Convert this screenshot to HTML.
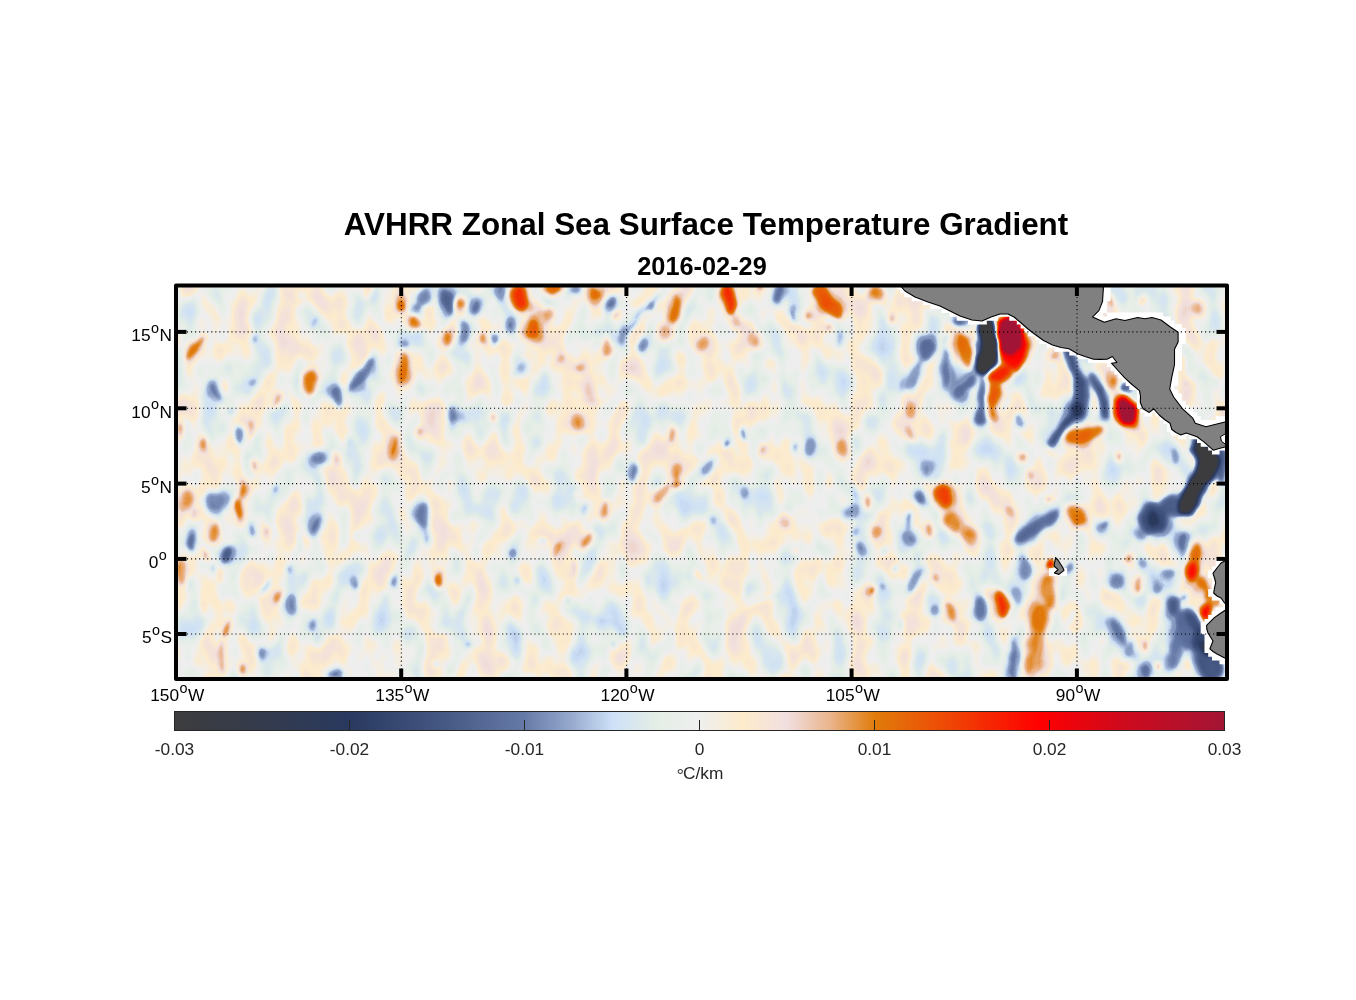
<!DOCTYPE html>
<html><head><meta charset="utf-8"><title>AVHRR Zonal Sea Surface Temperature Gradient</title>
<style>
html,body{margin:0;padding:0;background:#fff;}
body{width:1356px;height:1000px;overflow:hidden;position:relative;font-family:"Liberation Sans",Arial,Helvetica,sans-serif;}
svg{position:absolute;left:0;top:0;display:block}
text{font-family:"Liberation Sans",Arial,Helvetica,sans-serif;}
.ttl{font-weight:bold;font-size:31.4px;fill:#000}
.sub{font-weight:bold;font-size:25.3px;fill:#000}
.tk{font-size:17.3px;fill:#000}
.cb{font-size:17.3px;fill:#262626}
.sup{font-size:14.4px}
</style></head><body>
<svg width="1356" height="1000" viewBox="0 0 1356 1000">
<defs>

<filter id="fld" x="0" y="0" width="100%" height="100%" filterUnits="objectBoundingBox" color-interpolation-filters="sRGB">
<feTurbulence type="fractalNoise" baseFrequency="0.05 0.04" numOctaves="2" seed="3" result="dn"/>
<feDisplacementMap in="SourceGraphic" in2="dn" scale="11" xChannelSelector="R" yChannelSelector="G" result="b0"/>
<feGaussianBlur in="b0" stdDeviation="2.2" result="b"/>
<feTurbulence type="fractalNoise" baseFrequency="0.040 0.025" numOctaves="2" seed="7" result="t"/>
<feColorMatrix in="t" type="matrix" values="1 0 0 0 0  1 0 0 0 0  1 0 0 0 0  0 0 0 0 1" result="tg0"/>
<feComponentTransfer in="tg0" result="tg"><feFuncR type="table" tableValues="0.211 0.213 0.216 0.219 0.223 0.228 0.234 0.241 0.250 0.260 0.272 0.285 0.301 0.319 0.339 0.361 0.386 0.413 0.441 0.470 0.500 0.530 0.559 0.587 0.614 0.639 0.661 0.681 0.699 0.715 0.728 0.740 0.750 0.759 0.766 0.772 0.777 0.781 0.784 0.787 0.789"/><feFuncG type="table" tableValues="0.211 0.213 0.216 0.219 0.223 0.228 0.234 0.241 0.250 0.260 0.272 0.285 0.301 0.319 0.339 0.361 0.386 0.413 0.441 0.470 0.500 0.530 0.559 0.587 0.614 0.639 0.661 0.681 0.699 0.715 0.728 0.740 0.750 0.759 0.766 0.772 0.777 0.781 0.784 0.787 0.789"/><feFuncB type="table" tableValues="0.211 0.213 0.216 0.219 0.223 0.228 0.234 0.241 0.250 0.260 0.272 0.285 0.301 0.319 0.339 0.361 0.386 0.413 0.441 0.470 0.500 0.530 0.559 0.587 0.614 0.639 0.661 0.681 0.699 0.715 0.728 0.740 0.750 0.759 0.766 0.772 0.777 0.781 0.784 0.787 0.789"/></feComponentTransfer>
<feComponentTransfer in="b" result="M"><feFuncR type="table" tableValues="0.25 0.25 0.25 0.25 0.25 0.25 0.25 0.25 0.25 0.25 0.25 0.25 0.25 0.25 0.25 0.25 0.25 0.25 0.25 0.25 0.25 0.25 0.25 0.25 0.25 0.25 0.25 0.25 0.25 0.25 0.25 0.25 0.25 0.34 0.53 0.72 0.91 1.00 1.00 1.00 1.00 1.00 1.00 1.00 0.91 0.72 0.53 0.34 0.25 0.25 0.25 0.25 0.25 0.25 0.25 0.25 0.25 0.25 0.25 0.25 0.25 0.25 0.25 0.25 0.25 0.25 0.25 0.25 0.25 0.25 0.25 0.25 0.25 0.25 0.25 0.25 0.25 0.25 0.25 0.25 0.25"/><feFuncG type="table" tableValues="0.25 0.25 0.25 0.25 0.25 0.25 0.25 0.25 0.25 0.25 0.25 0.25 0.25 0.25 0.25 0.25 0.25 0.25 0.25 0.25 0.25 0.25 0.25 0.25 0.25 0.25 0.25 0.25 0.25 0.25 0.25 0.25 0.25 0.34 0.53 0.72 0.91 1.00 1.00 1.00 1.00 1.00 1.00 1.00 0.91 0.72 0.53 0.34 0.25 0.25 0.25 0.25 0.25 0.25 0.25 0.25 0.25 0.25 0.25 0.25 0.25 0.25 0.25 0.25 0.25 0.25 0.25 0.25 0.25 0.25 0.25 0.25 0.25 0.25 0.25 0.25 0.25 0.25 0.25 0.25 0.25"/><feFuncB type="table" tableValues="0.25 0.25 0.25 0.25 0.25 0.25 0.25 0.25 0.25 0.25 0.25 0.25 0.25 0.25 0.25 0.25 0.25 0.25 0.25 0.25 0.25 0.25 0.25 0.25 0.25 0.25 0.25 0.25 0.25 0.25 0.25 0.25 0.25 0.34 0.53 0.72 0.91 1.00 1.00 1.00 1.00 1.00 1.00 1.00 0.91 0.72 0.53 0.34 0.25 0.25 0.25 0.25 0.25 0.25 0.25 0.25 0.25 0.25 0.25 0.25 0.25 0.25 0.25 0.25 0.25 0.25 0.25 0.25 0.25 0.25 0.25 0.25 0.25 0.25 0.25 0.25 0.25 0.25 0.25 0.25 0.25"/></feComponentTransfer>
<feComposite in="tg" in2="M" operator="arithmetic" k1="1" k2="0" k3="0" k4="0" result="t1"/>
<feComposite in="b" in2="M" operator="arithmetic" k1="0" k2="1" k3="-0.1250" k4="0.1250" result="t3"/>
<feComposite in="t3" in2="t1" operator="arithmetic" k1="0" k2="1" k3="0.2500" k4="-0.1250" result="s"/>
<feComponentTransfer in="s">
<feFuncR type="table" tableValues="0.239 0.239 0.239 0.239 0.239 0.239 0.239 0.239 0.239 0.239 0.239 0.239 0.239 0.239 0.239 0.239 0.239 0.239 0.239 0.239 0.239 0.236 0.232 0.229 0.225 0.222 0.218 0.215 0.211 0.207 0.204 0.200 0.195 0.191 0.187 0.182 0.178 0.174 0.169 0.165 0.161 0.171 0.181 0.191 0.202 0.212 0.222 0.232 0.242 0.253 0.263 0.276 0.290 0.304 0.318 0.331 0.345 0.359 0.373 0.386 0.400 0.435 0.471 0.506 0.541 0.576 0.622 0.667 0.713 0.758 0.804 0.822 0.840 0.858 0.876 0.894 0.903 0.911 0.920 0.929 0.937 0.948 0.959 0.970 0.981 0.992 0.983 0.973 0.964 0.955 0.945 0.940 0.934 0.929 0.923 0.918 0.910 0.902 0.894 0.886 0.878 0.885 0.892 0.899 0.906 0.913 0.920 0.926 0.933 0.940 0.946 0.952 0.958 0.964 0.970 0.977 0.983 0.989 0.995 0.996 0.976 0.956 0.936 0.916 0.896 0.876 0.856 0.836 0.816 0.801 0.786 0.772 0.757 0.742 0.727 0.713 0.698 0.683 0.669 0.654 0.639 0.639 0.639 0.639 0.639 0.639 0.639 0.639 0.639 0.639 0.639 0.639 0.639 0.639 0.639 0.639 0.639 0.639 0.639 0.639 0.639"/>
<feFuncG type="table" tableValues="0.239 0.239 0.239 0.239 0.239 0.239 0.239 0.239 0.239 0.239 0.239 0.239 0.239 0.239 0.239 0.239 0.239 0.239 0.239 0.239 0.239 0.238 0.238 0.237 0.236 0.235 0.235 0.234 0.233 0.232 0.231 0.231 0.230 0.229 0.228 0.227 0.227 0.226 0.225 0.224 0.224 0.235 0.245 0.256 0.267 0.278 0.289 0.300 0.311 0.322 0.333 0.348 0.362 0.377 0.391 0.406 0.420 0.435 0.449 0.464 0.478 0.513 0.547 0.582 0.616 0.651 0.696 0.742 0.787 0.833 0.878 0.889 0.900 0.911 0.922 0.933 0.934 0.935 0.936 0.936 0.937 0.934 0.931 0.928 0.925 0.922 0.912 0.903 0.893 0.884 0.875 0.841 0.807 0.773 0.740 0.706 0.662 0.618 0.574 0.530 0.486 0.462 0.437 0.413 0.388 0.364 0.339 0.315 0.290 0.263 0.236 0.210 0.183 0.156 0.129 0.102 0.075 0.048 0.021 0.001 0.005 0.009 0.014 0.018 0.022 0.026 0.031 0.035 0.039 0.043 0.046 0.050 0.054 0.057 0.061 0.064 0.068 0.072 0.075 0.079 0.082 0.082 0.082 0.082 0.082 0.082 0.082 0.082 0.082 0.082 0.082 0.082 0.082 0.082 0.082 0.082 0.082 0.082 0.082 0.082 0.082"/>
<feFuncB type="table" tableValues="0.247 0.247 0.247 0.247 0.247 0.247 0.247 0.247 0.247 0.247 0.247 0.247 0.247 0.247 0.247 0.247 0.247 0.247 0.247 0.247 0.247 0.252 0.257 0.262 0.267 0.273 0.278 0.283 0.288 0.293 0.298 0.305 0.313 0.320 0.328 0.335 0.343 0.350 0.358 0.365 0.373 0.386 0.399 0.413 0.426 0.439 0.453 0.466 0.479 0.493 0.506 0.521 0.536 0.551 0.565 0.580 0.595 0.610 0.625 0.640 0.655 0.683 0.711 0.740 0.768 0.796 0.831 0.865 0.900 0.934 0.969 0.955 0.942 0.929 0.915 0.902 0.909 0.916 0.923 0.930 0.937 0.909 0.881 0.853 0.824 0.796 0.813 0.829 0.845 0.862 0.878 0.811 0.744 0.676 0.609 0.541 0.442 0.342 0.242 0.143 0.043 0.040 0.037 0.034 0.031 0.028 0.025 0.023 0.020 0.018 0.016 0.014 0.012 0.011 0.009 0.007 0.005 0.003 0.001 0.002 0.014 0.026 0.038 0.050 0.062 0.074 0.086 0.098 0.110 0.118 0.126 0.134 0.142 0.151 0.159 0.167 0.175 0.183 0.192 0.200 0.208 0.208 0.208 0.208 0.208 0.208 0.208 0.208 0.208 0.208 0.208 0.208 0.208 0.208 0.208 0.208 0.208 0.208 0.208 0.208 0.208"/>
</feComponentTransfer>
</filter>

<linearGradient id="cbg" x1="0" y1="0" x2="1" y2="0">
<stop offset="0.0000" stop-color="#3d3d3f"/>
<stop offset="0.0833" stop-color="#343b4c"/>
<stop offset="0.1667" stop-color="#29395f"/>
<stop offset="0.2500" stop-color="#435581"/>
<stop offset="0.3333" stop-color="#667aa7"/>
<stop offset="0.3750" stop-color="#93a6cb"/>
<stop offset="0.4167" stop-color="#cde0f7"/>
<stop offset="0.4583" stop-color="#e4eee6"/>
<stop offset="0.5000" stop-color="#efefef"/>
<stop offset="0.5417" stop-color="#fdebcb"/>
<stop offset="0.5833" stop-color="#f1dfe0"/>
<stop offset="0.6250" stop-color="#eab48a"/>
<stop offset="0.6667" stop-color="#e07c0b"/>
<stop offset="0.7333" stop-color="#ee4a05"/>
<stop offset="0.8233" stop-color="#ff0000"/>
<stop offset="0.9000" stop-color="#d00a1c"/>
<stop offset="1.0000" stop-color="#a31535"/>
</linearGradient>
<clipPath id="clip"><rect x="176" y="285.5" width="1051" height="393.5"/></clipPath>
</defs>

<g clip-path="url(#clip)"><g filter="url(#fld)">
<rect x="156" y="265.5" width="1091" height="433.5" fill="#808080"/>
<ellipse cx="195" cy="348" rx="8.8" ry="18.3" fill="#898989" transform="rotate(35 195 348)"/>
<ellipse cx="216" cy="392" rx="9.5" ry="14.5" fill="#777777" transform="rotate(-25 216 392)"/>
<ellipse cx="311" cy="382" rx="13.5" ry="14.5" fill="#8a8a8a" transform="rotate(0 311 382)"/>
<ellipse cx="363" cy="374" rx="10.5" ry="26.5" fill="#767676" transform="rotate(35 363 374)"/>
<ellipse cx="337" cy="396" rx="11.5" ry="14.5" fill="#767676" transform="rotate(0 337 396)"/>
<ellipse cx="402" cy="305" rx="10.5" ry="11.5" fill="#8a8a8a" transform="rotate(0 402 305)"/>
<ellipse cx="414" cy="323" rx="12.5" ry="10.5" fill="#8a8a8a" transform="rotate(35 414 323)"/>
<ellipse cx="423" cy="298" rx="12.5" ry="14.5" fill="#777777" transform="rotate(0 423 298)"/>
<ellipse cx="417" cy="308" rx="9.5" ry="9.5" fill="#777777" transform="rotate(0 417 308)"/>
<ellipse cx="403" cy="368" rx="10.5" ry="21.5" fill="#898989" transform="rotate(0 403 368)"/>
<ellipse cx="277" cy="400" rx="7.8" ry="11.8" fill="#878787" transform="rotate(25 277 400)"/>
<ellipse cx="181" cy="429" rx="7.8" ry="11.8" fill="#888888" transform="rotate(0 181 429)"/>
<ellipse cx="203" cy="444" rx="5.8" ry="10.8" fill="#888888" transform="rotate(0 203 444)"/>
<ellipse cx="239" cy="435" rx="7.8" ry="12.8" fill="#777777" transform="rotate(0 239 435)"/>
<ellipse cx="318" cy="458" rx="12.5" ry="11.5" fill="#777777" transform="rotate(0 318 458)"/>
<ellipse cx="393.6" cy="448" rx="6.8" ry="13.3" fill="#898989" transform="rotate(0 393.6 448)"/>
<ellipse cx="420" cy="434" rx="9.5" ry="9.5" fill="#878787" transform="rotate(0 420 434)"/>
<ellipse cx="336" cy="458" rx="5.8" ry="8.8" fill="#868686" transform="rotate(0 336 458)"/>
<ellipse cx="256" cy="464" rx="4.9" ry="9.4" fill="#878787" transform="rotate(0 256 464)"/>
<ellipse cx="252" cy="429" rx="3.9" ry="9.9" fill="#868686" transform="rotate(0 252 429)"/>
<ellipse cx="449" cy="302" rx="12.5" ry="18.5" fill="#757575" transform="rotate(-15 449 302)"/>
<ellipse cx="464" cy="332" rx="9.5" ry="16.5" fill="#777777" transform="rotate(0 464 332)"/>
<ellipse cx="461" cy="303" rx="7.8" ry="9.8" fill="#888888" transform="rotate(0 461 303)"/>
<ellipse cx="474" cy="306" rx="9.5" ry="12.5" fill="#767676" transform="rotate(25 474 306)"/>
<ellipse cx="500" cy="292" rx="7.8" ry="9.8" fill="#777777" transform="rotate(0 500 292)"/>
<ellipse cx="520" cy="299" rx="13.5" ry="17.5" fill="#8d8d8d" transform="rotate(0 520 299)"/>
<ellipse cx="552" cy="288" rx="13.5" ry="9.5" fill="#8b8b8b" transform="rotate(0 552 288)"/>
<ellipse cx="548" cy="314" rx="11.5" ry="11.5" fill="#878787" transform="rotate(0 548 314)"/>
<ellipse cx="532" cy="329" rx="12.5" ry="13.5" fill="#8a8a8a" transform="rotate(0 532 329)"/>
<ellipse cx="574" cy="291" rx="10.5" ry="9.5" fill="#777777" transform="rotate(0 574 291)"/>
<ellipse cx="595" cy="293" rx="9.5" ry="12.5" fill="#898989" transform="rotate(-30 595 293)"/>
<ellipse cx="611" cy="301" rx="9.5" ry="10.5" fill="#767676" transform="rotate(0 611 301)"/>
<ellipse cx="448" cy="339" rx="9.5" ry="14.5" fill="#898989" transform="rotate(15 448 339)"/>
<ellipse cx="482" cy="338" rx="5.8" ry="7.8" fill="#888888" transform="rotate(0 482 338)"/>
<ellipse cx="495" cy="338" rx="7.8" ry="9.8" fill="#777777" transform="rotate(0 495 338)"/>
<ellipse cx="511" cy="327" rx="7.8" ry="8.8" fill="#777777" transform="rotate(0 511 327)"/>
<polyline points="657,295 650,304 640,316 630,326 623,335" fill="none" stroke="#787878" stroke-width="14.0" stroke-linecap="round" stroke-linejoin="round"/>
<ellipse cx="650" cy="304" rx="7.8" ry="8.8" fill="#777777" transform="rotate(0 650 304)"/>
<ellipse cx="623" cy="334" rx="6.8" ry="12.3" fill="#777777" transform="rotate(0 623 334)"/>
<ellipse cx="643" cy="347" rx="9.5" ry="12.5" fill="#777777" transform="rotate(0 643 347)"/>
<ellipse cx="676" cy="310" rx="9.5" ry="19.5" fill="#898989" transform="rotate(10 676 310)"/>
<ellipse cx="664" cy="333" rx="11.5" ry="12.5" fill="#868686" transform="rotate(0 664 333)"/>
<ellipse cx="606" cy="347" rx="8.8" ry="13.3" fill="#888888" transform="rotate(0 606 347)"/>
<ellipse cx="617" cy="315" rx="5.8" ry="7.8" fill="#878787" transform="rotate(30 617 315)"/>
<ellipse cx="580" cy="368" rx="8.8" ry="7.8" fill="#878787" transform="rotate(0 580 368)"/>
<ellipse cx="562" cy="357" rx="7.8" ry="7.8" fill="#868686" transform="rotate(0 562 357)"/>
<ellipse cx="453" cy="414" rx="10.5" ry="13.5" fill="#777777" transform="rotate(0 453 414)"/>
<ellipse cx="494" cy="416" rx="5.8" ry="7.8" fill="#878787" transform="rotate(0 494 416)"/>
<ellipse cx="578" cy="424" rx="9.5" ry="10.5" fill="#878787" transform="rotate(0 578 424)"/>
<ellipse cx="672" cy="434" rx="7.8" ry="11.8" fill="#888888" transform="rotate(0 672 434)"/>
<ellipse cx="635" cy="472" rx="5.8" ry="10.8" fill="#777777" transform="rotate(0 635 472)"/>
<ellipse cx="675" cy="474" rx="7.8" ry="9.8" fill="#888888" transform="rotate(0 675 474)"/>
<ellipse cx="728" cy="302" rx="10.5" ry="20.5" fill="#8e8e8e" transform="rotate(-10 728 302)"/>
<ellipse cx="737" cy="322" rx="10.5" ry="10.5" fill="#868686" transform="rotate(0 737 322)"/>
<ellipse cx="759" cy="288" rx="6.8" ry="5.8" fill="#888888" transform="rotate(0 759 288)"/>
<ellipse cx="778" cy="294" rx="9.5" ry="12.5" fill="#767676" transform="rotate(0 778 294)"/>
<ellipse cx="828" cy="302" rx="12.5" ry="24.5" fill="#8b8b8b" transform="rotate(-45 828 302)"/>
<ellipse cx="810" cy="317" rx="5.8" ry="7.8" fill="#888888" transform="rotate(0 810 317)"/>
<ellipse cx="828" cy="327" rx="8.8" ry="7.8" fill="#878787" transform="rotate(-30 828 327)"/>
<ellipse cx="877" cy="293" rx="11.5" ry="12.5" fill="#888888" transform="rotate(0 877 293)"/>
<ellipse cx="890" cy="317" rx="5.8" ry="8.8" fill="#878787" transform="rotate(0 890 317)"/>
<ellipse cx="757" cy="341" rx="9.5" ry="11.5" fill="#878787" transform="rotate(20 757 341)"/>
<ellipse cx="701" cy="345" rx="7.8" ry="9.8" fill="#878787" transform="rotate(0 701 345)"/>
<ellipse cx="794" cy="314" rx="5.8" ry="10.8" fill="#787878" transform="rotate(-15 794 314)"/>
<ellipse cx="927" cy="349" rx="12.5" ry="16.5" fill="#767676" transform="rotate(15 927 349)"/>
<ellipse cx="915" cy="374" rx="9.5" ry="18.5" fill="#777777" transform="rotate(10 915 374)"/>
<ellipse cx="956" cy="320" rx="9.5" ry="9.5" fill="#767676" transform="rotate(0 956 320)"/>
<ellipse cx="958" cy="392" rx="9.5" ry="12.5" fill="#767676" transform="rotate(0 958 392)"/>
<ellipse cx="946" cy="364" rx="5.8" ry="20.9" fill="#787878" transform="rotate(0 946 364)"/>
<ellipse cx="910" cy="410" rx="7.8" ry="11.8" fill="#878787" transform="rotate(0 910 410)"/>
<ellipse cx="909" cy="436" rx="6.8" ry="10.3" fill="#878787" transform="rotate(0 909 436)"/>
<ellipse cx="842" cy="449" rx="6.8" ry="10.3" fill="#868686" transform="rotate(0 842 449)"/>
<ellipse cx="811" cy="446" rx="6.8" ry="11.3" fill="#797979" transform="rotate(0 811 446)"/>
<ellipse cx="743" cy="434" rx="4.9" ry="10.4" fill="#777777" transform="rotate(0 743 434)"/>
<ellipse cx="727" cy="444" rx="3.9" ry="6.9" fill="#777777" transform="rotate(0 727 444)"/>
<ellipse cx="707" cy="468" rx="9.5" ry="14.5" fill="#777777" transform="rotate(25 707 468)"/>
<ellipse cx="762" cy="451" rx="5.8" ry="8.8" fill="#868686" transform="rotate(0 762 451)"/>
<ellipse cx="795" cy="449" rx="3.9" ry="6.9" fill="#797979" transform="rotate(0 795 449)"/>
<ellipse cx="928" cy="470" rx="7.8" ry="10.8" fill="#787878" transform="rotate(0 928 470)"/>
<ellipse cx="959" cy="340" rx="5.8" ry="8.8" fill="#898989" transform="rotate(0 959 340)"/>
<ellipse cx="960" cy="321.5" rx="12.8" ry="7.8" fill="#757575" transform="rotate(10 960 321.5)"/>
<ellipse cx="927.7" cy="348.5" rx="10.5" ry="13.5" fill="#767676" transform="rotate(0 927.7 348.5)"/>
<ellipse cx="913.5" cy="374" rx="9.5" ry="22.5" fill="#787878" transform="rotate(25 913.5 374)"/>
<ellipse cx="946.5" cy="374" rx="9.5" ry="18.5" fill="#777777" transform="rotate(0 946.5 374)"/>
<ellipse cx="958.5" cy="392" rx="11.5" ry="11.5" fill="#777777" transform="rotate(0 958.5 392)"/>
<ellipse cx="966" cy="383" rx="9.5" ry="17.5" fill="#767676" transform="rotate(45 966 383)"/>
<ellipse cx="982" cy="398" rx="8.8" ry="26.3" fill="#757575" transform="rotate(0 982 398)"/>
<ellipse cx="980" cy="417" rx="10.5" ry="12.5" fill="#747474" transform="rotate(0 980 417)"/>
<ellipse cx="986" cy="346" rx="15.5" ry="33.5" fill="#747474" transform="rotate(5 986 346)"/>
<ellipse cx="966" cy="351" rx="12.5" ry="20.0" fill="#898989" transform="rotate(-20 966 351)"/>
<ellipse cx="1012" cy="345" rx="18.0" ry="31.5" fill="#919191" transform="rotate(-5 1012 345)"/>
<ellipse cx="1000" cy="375" rx="14.5" ry="15.5" fill="#909090" transform="rotate(40 1000 375)"/>
<ellipse cx="995" cy="393" rx="10.5" ry="17.5" fill="#8b8b8b" transform="rotate(10 995 393)"/>
<ellipse cx="993" cy="410" rx="6.8" ry="13.3" fill="#898989" transform="rotate(-10 993 410)"/>
<ellipse cx="1010" cy="336" rx="16.5" ry="24.5" fill="#9e9e9e" transform="rotate(-5 1010 336)"/>
<polyline points="1067.5,352.5 1073,362 1076.5,372 1079,382 1080,393 1079.5,403 1078,411 1072,420 1064.5,427.5 1058,434 1051,441" fill="none" stroke="#717171" stroke-width="16.5" stroke-linecap="round" stroke-linejoin="round"/>
<polyline points="1084,380 1085,392 1082.5,404" fill="none" stroke="#727272" stroke-width="14.0" stroke-linecap="round" stroke-linejoin="round"/>
<ellipse cx="1077" cy="410" rx="9.5" ry="12.5" fill="#6e6e6e" transform="rotate(15 1077 410)"/>
<polyline points="1093,376.5 1097,383 1100.5,390 1103,399 1105,408 1106.5,415" fill="none" stroke="#717171" stroke-width="15.0" stroke-linecap="round" stroke-linejoin="round"/>
<ellipse cx="1125" cy="388.5" rx="8.8" ry="7.8" fill="#747474" transform="rotate(0 1125 388.5)"/>
<ellipse cx="1112" cy="381" rx="9.5" ry="10.5" fill="#888888" transform="rotate(0 1112 381)"/>
<ellipse cx="1054" cy="354" rx="4.9" ry="6.4" fill="#878787" transform="rotate(0 1054 354)"/>
<ellipse cx="1126" cy="412" rx="14.5" ry="21.0" fill="#929292" transform="rotate(-24 1126 412)"/>
<ellipse cx="1126" cy="412" rx="12.0" ry="18.0" fill="#a0a0a0" transform="rotate(-24 1126 412)"/>
<ellipse cx="1086" cy="435" rx="25.5" ry="12.5" fill="#8a8a8a" transform="rotate(-17 1086 435)"/>
<ellipse cx="1024" cy="458" rx="5.8" ry="7.8" fill="#878787" transform="rotate(0 1024 458)"/>
<ellipse cx="1029" cy="474" rx="5.8" ry="6.8" fill="#868686" transform="rotate(0 1029 474)"/>
<ellipse cx="1117" cy="457.5" rx="5.8" ry="7.8" fill="#888888" transform="rotate(20 1117 457.5)"/>
<ellipse cx="1020" cy="422" rx="9.5" ry="10.5" fill="#777777" transform="rotate(0 1020 422)"/>
<ellipse cx="1198" cy="307" rx="5.8" ry="7.8" fill="#868686" transform="rotate(0 1198 307)"/>
<ellipse cx="1142" cy="301" rx="3.9" ry="6.9" fill="#868686" transform="rotate(0 1142 301)"/>
<ellipse cx="1110" cy="300" rx="3.9" ry="7.9" fill="#898989" transform="rotate(0 1110 300)"/>
<ellipse cx="188" cy="498" rx="11.5" ry="14.5" fill="#878787" transform="rotate(0 188 498)"/>
<ellipse cx="194" cy="516" rx="7.8" ry="9.8" fill="#868686" transform="rotate(0 194 516)"/>
<ellipse cx="215" cy="502" rx="14.5" ry="14.5" fill="#777777" transform="rotate(0 215 502)"/>
<ellipse cx="243" cy="490" rx="7.8" ry="12.8" fill="#898989" transform="rotate(0 243 490)"/>
<ellipse cx="238" cy="510" rx="7.8" ry="15.8" fill="#8a8a8a" transform="rotate(0 238 510)"/>
<ellipse cx="215" cy="532" rx="10.5" ry="13.5" fill="#888888" transform="rotate(0 215 532)"/>
<ellipse cx="191" cy="542" rx="7.8" ry="12.8" fill="#757575" transform="rotate(0 191 542)"/>
<ellipse cx="227" cy="557" rx="10.5" ry="13.5" fill="#737373" transform="rotate(20 227 557)"/>
<ellipse cx="205" cy="554" rx="5.8" ry="7.8" fill="#888888" transform="rotate(0 205 554)"/>
<ellipse cx="179.6" cy="572" rx="4.9" ry="12.4" fill="#888888" transform="rotate(0 179.6 572)"/>
<ellipse cx="253" cy="529" rx="7.8" ry="10.8" fill="#777777" transform="rotate(0 253 529)"/>
<ellipse cx="265.6" cy="534" rx="4.9" ry="8.4" fill="#868686" transform="rotate(0 265.6 534)"/>
<ellipse cx="315" cy="526" rx="9.5" ry="16.5" fill="#777777" transform="rotate(20 315 526)"/>
<ellipse cx="423" cy="515" rx="11.5" ry="17.5" fill="#777777" transform="rotate(0 423 515)"/>
<ellipse cx="425" cy="536" rx="3.9" ry="9.9" fill="#797979" transform="rotate(0 425 536)"/>
<ellipse cx="438" cy="581" rx="8.8" ry="12.3" fill="#8b8b8b" transform="rotate(0 438 581)"/>
<ellipse cx="355" cy="582" rx="4.9" ry="7.4" fill="#787878" transform="rotate(0 355 582)"/>
<ellipse cx="394" cy="580" rx="5.8" ry="8.8" fill="#787878" transform="rotate(0 394 580)"/>
<ellipse cx="278" cy="598" rx="5.8" ry="9.8" fill="#888888" transform="rotate(15 278 598)"/>
<ellipse cx="292" cy="606" rx="5.8" ry="11.8" fill="#777777" transform="rotate(0 292 606)"/>
<ellipse cx="312" cy="624" rx="5.8" ry="7.8" fill="#777777" transform="rotate(0 312 624)"/>
<ellipse cx="266" cy="589" rx="5.8" ry="10.8" fill="#797979" transform="rotate(40 266 589)"/>
<ellipse cx="289" cy="568" rx="4.9" ry="6.4" fill="#797979" transform="rotate(0 289 568)"/>
<ellipse cx="227" cy="628" rx="4.9" ry="11.4" fill="#898989" transform="rotate(10 227 628)"/>
<ellipse cx="222" cy="656" rx="4.9" ry="20.4" fill="#888888" transform="rotate(-5 222 656)"/>
<ellipse cx="244" cy="670" rx="5.8" ry="8.8" fill="#898989" transform="rotate(0 244 670)"/>
<ellipse cx="262" cy="652" rx="7.8" ry="8.8" fill="#777777" transform="rotate(0 262 652)"/>
<ellipse cx="336" cy="673" rx="7.8" ry="5.8" fill="#777777" transform="rotate(0 336 673)"/>
<ellipse cx="220" cy="576" rx="3.9" ry="6.9" fill="#868686" transform="rotate(0 220 576)"/>
<ellipse cx="212" cy="568" rx="2.9" ry="5.4" fill="#787878" transform="rotate(0 212 568)"/>
<ellipse cx="276" cy="488" rx="2.9" ry="6.4" fill="#797979" transform="rotate(0 276 488)"/>
<ellipse cx="605" cy="510" rx="7.8" ry="11.8" fill="#888888" transform="rotate(0 605 510)"/>
<ellipse cx="586" cy="540" rx="9.5" ry="13.5" fill="#888888" transform="rotate(25 586 540)"/>
<ellipse cx="662" cy="492" rx="10.5" ry="16.5" fill="#888888" transform="rotate(25 662 492)"/>
<ellipse cx="676" cy="483" rx="8.8" ry="7.8" fill="#898989" transform="rotate(0 676 483)"/>
<ellipse cx="556" cy="550" rx="3.9" ry="7.9" fill="#868686" transform="rotate(20 556 550)"/>
<ellipse cx="849" cy="513" rx="10.5" ry="11.5" fill="#787878" transform="rotate(30 849 513)"/>
<ellipse cx="861" cy="547" rx="5.8" ry="7.8" fill="#777777" transform="rotate(0 861 547)"/>
<ellipse cx="856" cy="532" rx="5.8" ry="6.8" fill="#797979" transform="rotate(0 856 532)"/>
<ellipse cx="868" cy="503" rx="4.9" ry="10.4" fill="#888888" transform="rotate(0 868 503)"/>
<ellipse cx="920" cy="497" rx="11.5" ry="13.0" fill="#757575" transform="rotate(-25 920 497)"/>
<ellipse cx="945" cy="496" rx="12.5" ry="15.5" fill="#8c8c8c" transform="rotate(0 945 496)"/>
<ellipse cx="953" cy="522" rx="12.5" ry="18.5" fill="#888888" transform="rotate(-20 953 522)"/>
<ellipse cx="910" cy="520" rx="4.9" ry="9.4" fill="#777777" transform="rotate(0 910 520)"/>
<ellipse cx="912" cy="537" rx="10.5" ry="9.5" fill="#777777" transform="rotate(30 912 537)"/>
<ellipse cx="927" cy="531" rx="5.8" ry="9.8" fill="#888888" transform="rotate(0 927 531)"/>
<ellipse cx="874" cy="532" rx="5.8" ry="7.8" fill="#868686" transform="rotate(40 874 532)"/>
<ellipse cx="914" cy="581" rx="9.5" ry="18.5" fill="#777777" transform="rotate(30 914 581)"/>
<ellipse cx="871" cy="589" rx="5.8" ry="5.8" fill="#898989" transform="rotate(0 871 589)"/>
<ellipse cx="933" cy="579" rx="5.8" ry="5.8" fill="#888888" transform="rotate(0 933 579)"/>
<ellipse cx="951" cy="612" rx="9.5" ry="14.5" fill="#888888" transform="rotate(-15 951 612)"/>
<ellipse cx="935" cy="611" rx="5.8" ry="6.8" fill="#787878" transform="rotate(0 935 611)"/>
<ellipse cx="1154.6" cy="518.4" rx="20.5" ry="18.5" fill="#717171" transform="rotate(0 1154.6 518.4)"/>
<ellipse cx="1154.6" cy="519" rx="11.5" ry="11.5" fill="#6d6d6d" transform="rotate(0 1154.6 519)"/>
<ellipse cx="1140" cy="534" rx="11.5" ry="10.5" fill="#777777" transform="rotate(30 1140 534)"/>
<ellipse cx="1172" cy="506" rx="15.5" ry="14.5" fill="#727272" transform="rotate(0 1172 506)"/>
<ellipse cx="1105" cy="527.5" rx="9.5" ry="10.5" fill="#777777" transform="rotate(30 1105 527.5)"/>
<ellipse cx="1221" cy="465" rx="9.5" ry="22.5" fill="#727272" transform="rotate(0 1221 465)"/>
<ellipse cx="1183" cy="543" rx="9.5" ry="14.5" fill="#767676" transform="rotate(0 1183 543)"/>
<ellipse cx="1037" cy="527" rx="11.5" ry="32.5" fill="#757575" transform="rotate(55 1037 527)"/>
<ellipse cx="1077" cy="515" rx="17.0" ry="14.5" fill="#898989" transform="rotate(30 1077 515)"/>
<ellipse cx="971" cy="535" rx="12.5" ry="11.5" fill="#878787" transform="rotate(0 971 535)"/>
<ellipse cx="1048" cy="500" rx="3.9" ry="3.9" fill="#898989" transform="rotate(0 1048 500)"/>
<ellipse cx="1010" cy="513" rx="8.8" ry="7.8" fill="#868686" transform="rotate(0 1010 513)"/>
<ellipse cx="1052" cy="563" rx="5.8" ry="7.3" fill="#929292" transform="rotate(0 1052 563)"/>
<ellipse cx="1070" cy="567" rx="5.8" ry="8.8" fill="#777777" transform="rotate(0 1070 567)"/>
<ellipse cx="1024" cy="568" rx="10.5" ry="16.5" fill="#777777" transform="rotate(0 1024 568)"/>
<ellipse cx="1018" cy="598" rx="7.8" ry="11.8" fill="#797979" transform="rotate(0 1018 598)"/>
<ellipse cx="1002" cy="603" rx="10.5" ry="16.5" fill="#8e8e8e" transform="rotate(-15 1002 603)"/>
<ellipse cx="980" cy="608" rx="11.5" ry="17.5" fill="#767676" transform="rotate(0 980 608)"/>
<ellipse cx="1048" cy="592" rx="12.5" ry="22.5" fill="#888888" transform="rotate(0 1048 592)"/>
<ellipse cx="1039" cy="620" rx="13.5" ry="20.5" fill="#888888" transform="rotate(5 1039 620)"/>
<ellipse cx="1035" cy="642" rx="11.5" ry="18.5" fill="#878787" transform="rotate(5 1035 642)"/>
<ellipse cx="1031" cy="662" rx="11.5" ry="17.5" fill="#878787" transform="rotate(5 1031 662)"/>
<ellipse cx="1013" cy="662" rx="9.5" ry="26.5" fill="#777777" transform="rotate(0 1013 662)"/>
<ellipse cx="1117" cy="582.5" rx="12.5" ry="14.5" fill="#777777" transform="rotate(0 1117 582.5)"/>
<ellipse cx="1139" cy="583.8" rx="5.8" ry="11.8" fill="#888888" transform="rotate(0 1139 583.8)"/>
<ellipse cx="1127.3" cy="559" rx="4.9" ry="5.4" fill="#898989" transform="rotate(0 1127.3 559)"/>
<ellipse cx="1163" cy="580" rx="17.5" ry="14.5" fill="#797979" transform="rotate(0 1163 580)"/>
<ellipse cx="1169" cy="574.7" rx="11.5" ry="10.5" fill="#777777" transform="rotate(0 1169 574.7)"/>
<ellipse cx="1157" cy="587.7" rx="9.5" ry="11.5" fill="#777777" transform="rotate(0 1157 587.7)"/>
<ellipse cx="1143" cy="561.7" rx="7.8" ry="7.8" fill="#787878" transform="rotate(0 1143 561.7)"/>
<ellipse cx="1184.5" cy="596.8" rx="7.8" ry="8.8" fill="#777777" transform="rotate(0 1184.5 596.8)"/>
<ellipse cx="1118" cy="632" rx="10.5" ry="20.5" fill="#777777" transform="rotate(-25 1118 632)"/>
<ellipse cx="1130" cy="650" rx="9.5" ry="12.5" fill="#777777" transform="rotate(0 1130 650)"/>
<ellipse cx="1146" cy="645.5" rx="6.8" ry="8.3" fill="#888888" transform="rotate(0 1146 645.5)"/>
<ellipse cx="1158.5" cy="664.4" rx="3.9" ry="6.9" fill="#878787" transform="rotate(0 1158.5 664.4)"/>
<ellipse cx="1188.4" cy="667" rx="2.9" ry="9.4" fill="#868686" transform="rotate(0 1188.4 667)"/>
<ellipse cx="1145.5" cy="671" rx="9.5" ry="12.5" fill="#767676" transform="rotate(0 1145.5 671)"/>
<ellipse cx="1186" cy="630" rx="15.5" ry="24.5" fill="#757575" transform="rotate(-15 1186 630)"/>
<ellipse cx="1176" cy="655" rx="12.5" ry="18.5" fill="#777777" transform="rotate(10 1176 655)"/>
<ellipse cx="1172.8" cy="606" rx="12.5" ry="14.5" fill="#737373" transform="rotate(0 1172.8 606)"/>
<ellipse cx="1176" cy="640" rx="11.5" ry="19.5" fill="#767676" transform="rotate(15 1176 640)"/>
<ellipse cx="1170" cy="662" rx="9.5" ry="12.5" fill="#787878" transform="rotate(0 1170 662)"/>
<ellipse cx="1194" cy="622" rx="11.5" ry="16.5" fill="#717171" transform="rotate(-20 1194 622)"/>
<ellipse cx="1203" cy="646" rx="14.5" ry="24.5" fill="#707070" transform="rotate(-20 1203 646)"/>
<ellipse cx="1212" cy="668" rx="15.5" ry="16.5" fill="#707070" transform="rotate(0 1212 668)"/>
<ellipse cx="1208" cy="661" rx="16.5" ry="24.5" fill="#727272" transform="rotate(-15 1208 661)"/>
<ellipse cx="1205" cy="649" rx="8.8" ry="13.3" fill="#686868" transform="rotate(-25 1205 649)"/>
<ellipse cx="1196" cy="552" rx="10.5" ry="14.5" fill="#8a8a8a" transform="rotate(15 1196 552)"/>
<ellipse cx="1192.5" cy="569.5" rx="10.0" ry="14.5" fill="#909090" transform="rotate(0 1192.5 569.5)"/>
<ellipse cx="1201.5" cy="584" rx="9.5" ry="13.5" fill="#898989" transform="rotate(-30 1201.5 584)"/>
<ellipse cx="1208" cy="596" rx="9.5" ry="12.5" fill="#8a8a8a" transform="rotate(-20 1208 596)"/>
<ellipse cx="1208" cy="611" rx="9.5" ry="12.5" fill="#919191" transform="rotate(15 1208 611)"/>
<ellipse cx="1217" cy="602" rx="9.5" ry="9.5" fill="#898989" transform="rotate(0 1217 602)"/>
<ellipse cx="590" cy="372" rx="42.0" ry="34.0" fill="#868686" transform="rotate(0 590 372)"/>
<ellipse cx="1040" cy="386" rx="24.0" ry="27.0" fill="#808080" transform="rotate(0 1040 386)"/>
<ellipse cx="800" cy="600" rx="60.0" ry="40.0" fill="#7e7e7e" transform="rotate(0 800 600)"/>
<ellipse cx="560" cy="640" rx="70.0" ry="28.0" fill="#7d7d7d" transform="rotate(0 560 640)"/>
<ellipse cx="195" cy="348" rx="5.9" ry="15.4" fill="#939393" transform="rotate(35 195 348)"/>
<ellipse cx="216" cy="392" rx="6.5" ry="11.5" fill="#6d6d6d" transform="rotate(-25 216 392)"/>
<ellipse cx="311" cy="382" rx="10.5" ry="11.5" fill="#959595" transform="rotate(0 311 382)"/>
<ellipse cx="363" cy="374" rx="7.5" ry="23.5" fill="#6b6b6b" transform="rotate(35 363 374)"/>
<ellipse cx="337" cy="396" rx="8.5" ry="11.5" fill="#6b6b6b" transform="rotate(0 337 396)"/>
<ellipse cx="402" cy="305" rx="7.5" ry="8.5" fill="#959595" transform="rotate(0 402 305)"/>
<ellipse cx="414" cy="323" rx="9.5" ry="7.5" fill="#959595" transform="rotate(35 414 323)"/>
<ellipse cx="423" cy="298" rx="9.5" ry="11.5" fill="#6d6d6d" transform="rotate(0 423 298)"/>
<ellipse cx="417" cy="308" rx="6.5" ry="6.5" fill="#6e6e6e" transform="rotate(0 417 308)"/>
<ellipse cx="403" cy="368" rx="7.5" ry="18.5" fill="#939393" transform="rotate(0 403 368)"/>
<ellipse cx="277" cy="400" rx="5.3" ry="9.3" fill="#8f8f8f" transform="rotate(25 277 400)"/>
<ellipse cx="181" cy="429" rx="5.3" ry="9.3" fill="#919191" transform="rotate(0 181 429)"/>
<ellipse cx="203" cy="444" rx="4.0" ry="9.0" fill="#919191" transform="rotate(0 203 444)"/>
<ellipse cx="239" cy="435" rx="5.3" ry="10.3" fill="#6d6d6d" transform="rotate(0 239 435)"/>
<ellipse cx="318" cy="458" rx="9.5" ry="8.5" fill="#6d6d6d" transform="rotate(0 318 458)"/>
<ellipse cx="393.6" cy="448" rx="4.6" ry="11.1" fill="#939393" transform="rotate(0 393.6 448)"/>
<ellipse cx="420" cy="434" rx="6.5" ry="6.5" fill="#8f8f8f" transform="rotate(0 420 434)"/>
<ellipse cx="336" cy="458" rx="4.0" ry="7.0" fill="#8d8d8d" transform="rotate(0 336 458)"/>
<ellipse cx="256" cy="464" rx="3.3" ry="7.8" fill="#8f8f8f" transform="rotate(0 256 464)"/>
<ellipse cx="252" cy="429" rx="2.6" ry="8.6" fill="#8d8d8d" transform="rotate(0 252 429)"/>
<ellipse cx="367" cy="294" rx="4.0" ry="9.0" fill="#8f8f8f" transform="rotate(20 367 294)"/>
<ellipse cx="300" cy="294" rx="6.0" ry="6.0" fill="#747474" transform="rotate(0 300 294)"/>
<ellipse cx="312" cy="322" rx="3.0" ry="7.0" fill="#6f6f6f" transform="rotate(10 312 322)"/>
<ellipse cx="257" cy="338" rx="3.0" ry="4.0" fill="#6b6b6b" transform="rotate(0 257 338)"/>
<ellipse cx="252" cy="382" rx="4.0" ry="4.0" fill="#6e6e6e" transform="rotate(0 252 382)"/>
<ellipse cx="230" cy="412" rx="5.0" ry="5.0" fill="#727272" transform="rotate(0 230 412)"/>
<ellipse cx="348" cy="440" rx="4.0" ry="5.0" fill="#6f6f6f" transform="rotate(0 348 440)"/>
<ellipse cx="406" cy="342" rx="6.0" ry="3.0" fill="#6f6f6f" transform="rotate(0 406 342)"/>
<ellipse cx="449" cy="302" rx="9.5" ry="15.5" fill="#686868" transform="rotate(-15 449 302)"/>
<ellipse cx="464" cy="332" rx="6.5" ry="13.5" fill="#6d6d6d" transform="rotate(0 464 332)"/>
<ellipse cx="461" cy="303" rx="5.3" ry="7.3" fill="#929292" transform="rotate(0 461 303)"/>
<ellipse cx="474" cy="306" rx="6.5" ry="9.5" fill="#6b6b6b" transform="rotate(25 474 306)"/>
<ellipse cx="500" cy="292" rx="5.3" ry="7.3" fill="#6e6e6e" transform="rotate(0 500 292)"/>
<ellipse cx="520" cy="299" rx="10.5" ry="14.5" fill="#9d9d9d" transform="rotate(0 520 299)"/>
<ellipse cx="552" cy="288" rx="10.5" ry="6.5" fill="#979797" transform="rotate(0 552 288)"/>
<ellipse cx="548" cy="314" rx="8.5" ry="8.5" fill="#909090" transform="rotate(0 548 314)"/>
<ellipse cx="532" cy="329" rx="9.5" ry="10.5" fill="#959595" transform="rotate(0 532 329)"/>
<ellipse cx="574" cy="291" rx="7.5" ry="6.5" fill="#6e6e6e" transform="rotate(0 574 291)"/>
<ellipse cx="595" cy="293" rx="6.5" ry="9.5" fill="#939393" transform="rotate(-30 595 293)"/>
<ellipse cx="611" cy="301" rx="6.5" ry="7.5" fill="#6b6b6b" transform="rotate(0 611 301)"/>
<ellipse cx="448" cy="339" rx="6.5" ry="11.5" fill="#939393" transform="rotate(15 448 339)"/>
<ellipse cx="482" cy="338" rx="4.0" ry="6.0" fill="#919191" transform="rotate(0 482 338)"/>
<ellipse cx="495" cy="338" rx="5.3" ry="7.3" fill="#6d6d6d" transform="rotate(0 495 338)"/>
<ellipse cx="511" cy="327" rx="5.3" ry="6.3" fill="#6d6d6d" transform="rotate(0 511 327)"/>
<polyline points="657,295 650,304 640,316 630,326 623,335" fill="none" stroke="#6f6f6f" stroke-width="8.5" stroke-linecap="round" stroke-linejoin="round"/>
<ellipse cx="650" cy="304" rx="5.3" ry="6.3" fill="#6d6d6d" transform="rotate(0 650 304)"/>
<ellipse cx="623" cy="334" rx="4.6" ry="10.1" fill="#6e6e6e" transform="rotate(0 623 334)"/>
<ellipse cx="643" cy="347" rx="6.5" ry="9.5" fill="#6d6d6d" transform="rotate(0 643 347)"/>
<ellipse cx="676" cy="310" rx="6.5" ry="16.5" fill="#939393" transform="rotate(10 676 310)"/>
<ellipse cx="664" cy="333" rx="8.5" ry="9.5" fill="#8e8e8e" transform="rotate(0 664 333)"/>
<ellipse cx="606" cy="347" rx="5.9" ry="10.4" fill="#919191" transform="rotate(0 606 347)"/>
<ellipse cx="617" cy="315" rx="4.0" ry="6.0" fill="#8f8f8f" transform="rotate(30 617 315)"/>
<ellipse cx="580" cy="368" rx="6.3" ry="5.3" fill="#8f8f8f" transform="rotate(0 580 368)"/>
<ellipse cx="562" cy="357" rx="5.3" ry="5.3" fill="#8d8d8d" transform="rotate(0 562 357)"/>
<ellipse cx="453" cy="414" rx="7.5" ry="10.5" fill="#6d6d6d" transform="rotate(0 453 414)"/>
<ellipse cx="494" cy="416" rx="4.0" ry="6.0" fill="#8f8f8f" transform="rotate(0 494 416)"/>
<ellipse cx="578" cy="424" rx="6.5" ry="7.5" fill="#909090" transform="rotate(0 578 424)"/>
<ellipse cx="672" cy="434" rx="5.3" ry="9.3" fill="#919191" transform="rotate(0 672 434)"/>
<ellipse cx="635" cy="472" rx="4.0" ry="9.0" fill="#6d6d6d" transform="rotate(0 635 472)"/>
<ellipse cx="675" cy="474" rx="5.3" ry="7.3" fill="#929292" transform="rotate(0 675 474)"/>
<ellipse cx="520" cy="368" rx="6.0" ry="12.0" fill="#717171" transform="rotate(30 520 368)"/>
<ellipse cx="728" cy="302" rx="7.5" ry="17.5" fill="#9e9e9e" transform="rotate(-10 728 302)"/>
<ellipse cx="737" cy="322" rx="7.5" ry="7.5" fill="#8e8e8e" transform="rotate(0 737 322)"/>
<ellipse cx="759" cy="288" rx="5.0" ry="4.0" fill="#929292" transform="rotate(0 759 288)"/>
<ellipse cx="778" cy="294" rx="6.5" ry="9.5" fill="#6b6b6b" transform="rotate(0 778 294)"/>
<ellipse cx="828" cy="302" rx="9.5" ry="21.5" fill="#999999" transform="rotate(-45 828 302)"/>
<ellipse cx="810" cy="317" rx="4.0" ry="6.0" fill="#919191" transform="rotate(0 810 317)"/>
<ellipse cx="828" cy="327" rx="6.3" ry="5.3" fill="#8f8f8f" transform="rotate(-30 828 327)"/>
<ellipse cx="877" cy="293" rx="8.5" ry="9.5" fill="#929292" transform="rotate(0 877 293)"/>
<ellipse cx="890" cy="317" rx="4.0" ry="7.0" fill="#8f8f8f" transform="rotate(0 890 317)"/>
<ellipse cx="757" cy="341" rx="6.5" ry="8.5" fill="#8f8f8f" transform="rotate(20 757 341)"/>
<ellipse cx="701" cy="345" rx="5.3" ry="7.3" fill="#8f8f8f" transform="rotate(0 701 345)"/>
<ellipse cx="794" cy="314" rx="4.0" ry="9.0" fill="#6f6f6f" transform="rotate(-15 794 314)"/>
<ellipse cx="838" cy="340" rx="5.0" ry="8.0" fill="#717171" transform="rotate(0 838 340)"/>
<ellipse cx="927" cy="349" rx="9.5" ry="13.5" fill="#6b6b6b" transform="rotate(15 927 349)"/>
<ellipse cx="915" cy="374" rx="6.5" ry="15.5" fill="#6d6d6d" transform="rotate(10 915 374)"/>
<ellipse cx="956" cy="320" rx="6.5" ry="6.5" fill="#6b6b6b" transform="rotate(0 956 320)"/>
<ellipse cx="958" cy="392" rx="6.5" ry="9.5" fill="#6b6b6b" transform="rotate(0 958 392)"/>
<ellipse cx="946" cy="364" rx="4.0" ry="19.0" fill="#6f6f6f" transform="rotate(0 946 364)"/>
<ellipse cx="910" cy="410" rx="5.3" ry="9.3" fill="#8f8f8f" transform="rotate(0 910 410)"/>
<ellipse cx="909" cy="436" rx="4.6" ry="8.1" fill="#8f8f8f" transform="rotate(0 909 436)"/>
<ellipse cx="842" cy="449" rx="4.6" ry="8.1" fill="#8d8d8d" transform="rotate(0 842 449)"/>
<ellipse cx="811" cy="446" rx="4.6" ry="9.1" fill="#727272" transform="rotate(0 811 446)"/>
<ellipse cx="743" cy="434" rx="3.3" ry="8.8" fill="#6d6d6d" transform="rotate(0 743 434)"/>
<ellipse cx="727" cy="444" rx="2.6" ry="5.6" fill="#6d6d6d" transform="rotate(0 727 444)"/>
<ellipse cx="707" cy="468" rx="6.5" ry="11.5" fill="#6e6e6e" transform="rotate(25 707 468)"/>
<ellipse cx="762" cy="451" rx="4.0" ry="7.0" fill="#8d8d8d" transform="rotate(0 762 451)"/>
<ellipse cx="795" cy="449" rx="2.6" ry="5.6" fill="#717171" transform="rotate(0 795 449)"/>
<ellipse cx="928" cy="470" rx="5.3" ry="8.3" fill="#6f6f6f" transform="rotate(0 928 470)"/>
<ellipse cx="959" cy="340" rx="4.0" ry="7.0" fill="#939393" transform="rotate(0 959 340)"/>
<ellipse cx="960" cy="321.5" rx="10.3" ry="5.3" fill="#696969" transform="rotate(10 960 321.5)"/>
<ellipse cx="927.7" cy="348.5" rx="7.5" ry="10.5" fill="#6b6b6b" transform="rotate(0 927.7 348.5)"/>
<ellipse cx="913.5" cy="374" rx="6.5" ry="19.5" fill="#6f6f6f" transform="rotate(25 913.5 374)"/>
<ellipse cx="912" cy="388" rx="4.0" ry="6.0" fill="#6d6d6d" transform="rotate(0 912 388)"/>
<ellipse cx="945" cy="339.5" rx="4.0" ry="6.0" fill="#6d6d6d" transform="rotate(0 945 339.5)"/>
<ellipse cx="946.5" cy="374" rx="6.5" ry="15.5" fill="#6d6d6d" transform="rotate(0 946.5 374)"/>
<ellipse cx="958.5" cy="392" rx="8.5" ry="8.5" fill="#6d6d6d" transform="rotate(0 958.5 392)"/>
<ellipse cx="966" cy="383" rx="6.5" ry="14.5" fill="#6b6b6b" transform="rotate(45 966 383)"/>
<ellipse cx="982" cy="398" rx="5.9" ry="23.4" fill="#696969" transform="rotate(0 982 398)"/>
<ellipse cx="980" cy="417" rx="7.5" ry="9.5" fill="#676767" transform="rotate(0 980 417)"/>
<ellipse cx="986" cy="346" rx="12.5" ry="30.5" fill="#676767" transform="rotate(5 986 346)"/>
<polygon points="980,318 994,318 995,353 991.5,364 987,372 982,373.5 978.5,370 980,362 982,350 980.5,334" fill="#494949" stroke="#494949" stroke-width="4" stroke-linejoin="round"/>
<ellipse cx="966" cy="351" rx="9.5" ry="17.0" fill="#949494" transform="rotate(-20 966 351)"/>
<ellipse cx="1012" cy="345" rx="15.0" ry="28.5" fill="#a5a5a5" transform="rotate(-5 1012 345)"/>
<ellipse cx="1000" cy="375" rx="11.5" ry="12.5" fill="#a2a2a2" transform="rotate(40 1000 375)"/>
<ellipse cx="995" cy="393" rx="7.5" ry="14.5" fill="#979797" transform="rotate(10 995 393)"/>
<ellipse cx="993" cy="410" rx="4.6" ry="11.1" fill="#939393" transform="rotate(-10 993 410)"/>
<ellipse cx="1010" cy="336" rx="13.5" ry="21.5" fill="#c1c1c1" transform="rotate(-5 1010 336)"/>
<polyline points="1067.5,352.5 1073,362 1076.5,372 1079,382 1080,393 1079.5,403 1078,411 1072,420 1064.5,427.5 1058,434 1051,441" fill="none" stroke="#606060" stroke-width="11.0" stroke-linecap="round" stroke-linejoin="round"/>
<polyline points="1084,380 1085,392 1082.5,404" fill="none" stroke="#636363" stroke-width="8.5" stroke-linecap="round" stroke-linejoin="round"/>
<ellipse cx="1077" cy="410" rx="6.5" ry="9.5" fill="#5a5a5a" transform="rotate(15 1077 410)"/>
<polyline points="1093,376.5 1097,383 1100.5,390 1103,399 1105,408 1106.5,415" fill="none" stroke="#616161" stroke-width="9.5" stroke-linecap="round" stroke-linejoin="round"/>
<ellipse cx="1090" cy="390" rx="1.8" ry="3.0" fill="#747474" transform="rotate(0 1090 390)"/>
<ellipse cx="1125" cy="388.5" rx="6.3" ry="5.3" fill="#676767" transform="rotate(0 1125 388.5)"/>
<ellipse cx="1112" cy="381" rx="6.5" ry="7.5" fill="#929292" transform="rotate(0 1112 381)"/>
<ellipse cx="1054" cy="354" rx="3.3" ry="4.8" fill="#8f8f8f" transform="rotate(0 1054 354)"/>
<ellipse cx="1126" cy="412" rx="11.5" ry="18.0" fill="#a7a7a7" transform="rotate(-24 1126 412)"/>
<ellipse cx="1126" cy="412" rx="9.0" ry="15.0" fill="#c4c4c4" transform="rotate(-24 1126 412)"/>
<ellipse cx="1086" cy="435" rx="22.5" ry="9.5" fill="#959595" transform="rotate(-17 1086 435)"/>
<ellipse cx="1024" cy="458" rx="4.0" ry="6.0" fill="#8f8f8f" transform="rotate(0 1024 458)"/>
<ellipse cx="1029" cy="474" rx="4.0" ry="5.0" fill="#8d8d8d" transform="rotate(0 1029 474)"/>
<ellipse cx="1117" cy="457.5" rx="4.0" ry="6.0" fill="#919191" transform="rotate(20 1117 457.5)"/>
<ellipse cx="1020" cy="422" rx="6.5" ry="7.5" fill="#6e6e6e" transform="rotate(0 1020 422)"/>
<ellipse cx="1182" cy="368" rx="4.0" ry="16.0" fill="#8f8f8f" transform="rotate(0 1182 368)"/>
<ellipse cx="1198" cy="307" rx="4.0" ry="6.0" fill="#8d8d8d" transform="rotate(0 1198 307)"/>
<ellipse cx="1142" cy="301" rx="2.6" ry="5.6" fill="#8d8d8d" transform="rotate(0 1142 301)"/>
<ellipse cx="1110" cy="300" rx="2.6" ry="6.6" fill="#939393" transform="rotate(0 1110 300)"/>
<ellipse cx="1216" cy="382" rx="4.0" ry="5.0" fill="#727272" transform="rotate(0 1216 382)"/>
<ellipse cx="188" cy="498" rx="8.5" ry="11.5" fill="#909090" transform="rotate(0 188 498)"/>
<ellipse cx="194" cy="516" rx="5.3" ry="7.3" fill="#8d8d8d" transform="rotate(0 194 516)"/>
<ellipse cx="215" cy="502" rx="11.5" ry="11.5" fill="#6e6e6e" transform="rotate(0 215 502)"/>
<ellipse cx="243" cy="490" rx="5.3" ry="10.3" fill="#939393" transform="rotate(0 243 490)"/>
<ellipse cx="238" cy="510" rx="5.3" ry="13.3" fill="#969696" transform="rotate(0 238 510)"/>
<ellipse cx="215" cy="532" rx="7.5" ry="10.5" fill="#929292" transform="rotate(0 215 532)"/>
<ellipse cx="191" cy="542" rx="5.3" ry="10.3" fill="#696969" transform="rotate(0 191 542)"/>
<ellipse cx="227" cy="557" rx="7.5" ry="10.5" fill="#656565" transform="rotate(20 227 557)"/>
<ellipse cx="205" cy="554" rx="4.0" ry="6.0" fill="#919191" transform="rotate(0 205 554)"/>
<ellipse cx="179.6" cy="572" rx="3.3" ry="10.8" fill="#919191" transform="rotate(0 179.6 572)"/>
<ellipse cx="253" cy="529" rx="5.3" ry="8.3" fill="#6e6e6e" transform="rotate(0 253 529)"/>
<ellipse cx="265.6" cy="534" rx="3.3" ry="6.8" fill="#8d8d8d" transform="rotate(0 265.6 534)"/>
<ellipse cx="315" cy="526" rx="6.5" ry="13.5" fill="#6d6d6d" transform="rotate(20 315 526)"/>
<ellipse cx="423" cy="515" rx="8.5" ry="14.5" fill="#6d6d6d" transform="rotate(0 423 515)"/>
<ellipse cx="425" cy="536" rx="2.6" ry="8.6" fill="#717171" transform="rotate(0 425 536)"/>
<ellipse cx="438" cy="581" rx="5.9" ry="9.4" fill="#989898" transform="rotate(0 438 581)"/>
<ellipse cx="355" cy="582" rx="3.3" ry="5.8" fill="#6f6f6f" transform="rotate(0 355 582)"/>
<ellipse cx="394" cy="580" rx="4.0" ry="7.0" fill="#6f6f6f" transform="rotate(0 394 580)"/>
<ellipse cx="278" cy="598" rx="4.0" ry="8.0" fill="#919191" transform="rotate(15 278 598)"/>
<ellipse cx="292" cy="606" rx="4.0" ry="10.0" fill="#6e6e6e" transform="rotate(0 292 606)"/>
<ellipse cx="312" cy="624" rx="4.0" ry="6.0" fill="#6d6d6d" transform="rotate(0 312 624)"/>
<ellipse cx="266" cy="589" rx="4.0" ry="9.0" fill="#717171" transform="rotate(40 266 589)"/>
<ellipse cx="289" cy="568" rx="3.3" ry="4.8" fill="#717171" transform="rotate(0 289 568)"/>
<ellipse cx="227" cy="628" rx="3.3" ry="9.8" fill="#939393" transform="rotate(10 227 628)"/>
<ellipse cx="222" cy="656" rx="3.3" ry="18.8" fill="#919191" transform="rotate(-5 222 656)"/>
<ellipse cx="244" cy="670" rx="4.0" ry="7.0" fill="#939393" transform="rotate(0 244 670)"/>
<ellipse cx="262" cy="652" rx="5.3" ry="6.3" fill="#6e6e6e" transform="rotate(0 262 652)"/>
<ellipse cx="336" cy="673" rx="6.0" ry="4.0" fill="#6d6d6d" transform="rotate(0 336 673)"/>
<ellipse cx="203" cy="610" rx="2.0" ry="8.0" fill="#929292" transform="rotate(0 203 610)"/>
<ellipse cx="220" cy="576" rx="2.6" ry="5.6" fill="#8d8d8d" transform="rotate(0 220 576)"/>
<ellipse cx="212" cy="568" rx="2.0" ry="4.5" fill="#6f6f6f" transform="rotate(0 212 568)"/>
<ellipse cx="276" cy="488" rx="2.0" ry="5.5" fill="#717171" transform="rotate(0 276 488)"/>
<ellipse cx="354" cy="538" rx="2.0" ry="6.0" fill="#686868" transform="rotate(0 354 538)"/>
<ellipse cx="190" cy="582" rx="3.0" ry="8.0" fill="#707070" transform="rotate(0 190 582)"/>
<ellipse cx="301" cy="542" rx="2.0" ry="10.0" fill="#6f6f6f" transform="rotate(0 301 542)"/>
<ellipse cx="605" cy="510" rx="5.3" ry="9.3" fill="#929292" transform="rotate(0 605 510)"/>
<ellipse cx="586" cy="540" rx="6.5" ry="10.5" fill="#929292" transform="rotate(25 586 540)"/>
<ellipse cx="662" cy="492" rx="7.5" ry="13.5" fill="#919191" transform="rotate(25 662 492)"/>
<ellipse cx="676" cy="483" rx="6.3" ry="5.3" fill="#939393" transform="rotate(0 676 483)"/>
<ellipse cx="584" cy="510" rx="3.0" ry="8.0" fill="#6d6d6d" transform="rotate(0 584 510)"/>
<ellipse cx="543" cy="543" rx="3.0" ry="3.0" fill="#686868" transform="rotate(0 543 543)"/>
<ellipse cx="513" cy="553" rx="4.0" ry="3.0" fill="#686868" transform="rotate(0 513 553)"/>
<ellipse cx="556" cy="550" rx="2.6" ry="6.6" fill="#8d8d8d" transform="rotate(20 556 550)"/>
<ellipse cx="576" cy="568" rx="2.0" ry="10.0" fill="#919191" transform="rotate(0 576 568)"/>
<ellipse cx="578" cy="494" rx="2.0" ry="8.0" fill="#929292" transform="rotate(0 578 494)"/>
<ellipse cx="518" cy="581" rx="3.0" ry="4.0" fill="#6b6b6b" transform="rotate(0 518 581)"/>
<ellipse cx="568" cy="602" rx="3.0" ry="5.0" fill="#6d6d6d" transform="rotate(0 568 602)"/>
<ellipse cx="613" cy="646" rx="3.0" ry="4.0" fill="#6b6b6b" transform="rotate(0 613 646)"/>
<ellipse cx="437" cy="663" rx="4.0" ry="5.0" fill="#6c6c6c" transform="rotate(0 437 663)"/>
<ellipse cx="467" cy="644" rx="3.0" ry="4.0" fill="#6b6b6b" transform="rotate(0 467 644)"/>
<ellipse cx="849" cy="513" rx="7.5" ry="8.5" fill="#707070" transform="rotate(30 849 513)"/>
<ellipse cx="854" cy="492" rx="2.5" ry="10.0" fill="#6d6d6d" transform="rotate(0 854 492)"/>
<ellipse cx="861" cy="547" rx="4.0" ry="6.0" fill="#6d6d6d" transform="rotate(0 861 547)"/>
<ellipse cx="856" cy="532" rx="4.0" ry="5.0" fill="#717171" transform="rotate(0 856 532)"/>
<ellipse cx="868" cy="503" rx="3.3" ry="8.8" fill="#919191" transform="rotate(0 868 503)"/>
<ellipse cx="920" cy="497" rx="8.5" ry="10.0" fill="#6a6a6a" transform="rotate(-25 920 497)"/>
<ellipse cx="945" cy="496" rx="9.5" ry="12.5" fill="#9b9b9b" transform="rotate(0 945 496)"/>
<ellipse cx="953" cy="522" rx="9.5" ry="15.5" fill="#929292" transform="rotate(-20 953 522)"/>
<ellipse cx="910" cy="520" rx="3.3" ry="7.8" fill="#6d6d6d" transform="rotate(0 910 520)"/>
<ellipse cx="912" cy="537" rx="7.5" ry="6.5" fill="#6e6e6e" transform="rotate(30 912 537)"/>
<ellipse cx="927" cy="531" rx="4.0" ry="8.0" fill="#919191" transform="rotate(0 927 531)"/>
<ellipse cx="874" cy="532" rx="4.0" ry="6.0" fill="#8d8d8d" transform="rotate(40 874 532)"/>
<ellipse cx="914" cy="581" rx="6.5" ry="15.5" fill="#6e6e6e" transform="rotate(30 914 581)"/>
<ellipse cx="871" cy="589" rx="4.0" ry="4.0" fill="#939393" transform="rotate(0 871 589)"/>
<ellipse cx="933" cy="579" rx="4.0" ry="4.0" fill="#919191" transform="rotate(0 933 579)"/>
<ellipse cx="951" cy="612" rx="6.5" ry="11.5" fill="#929292" transform="rotate(-15 951 612)"/>
<ellipse cx="935" cy="611" rx="4.0" ry="5.0" fill="#6f6f6f" transform="rotate(0 935 611)"/>
<ellipse cx="883" cy="585" rx="2.0" ry="3.0" fill="#686868" transform="rotate(0 883 585)"/>
<ellipse cx="901" cy="626" rx="4.0" ry="6.0" fill="#6d6d6d" transform="rotate(0 901 626)"/>
<ellipse cx="744" cy="493" rx="3.0" ry="8.0" fill="#6d6d6d" transform="rotate(0 744 493)"/>
<ellipse cx="714" cy="520" rx="3.0" ry="4.0" fill="#6b6b6b" transform="rotate(0 714 520)"/>
<ellipse cx="885" cy="553" rx="3.0" ry="5.0" fill="#6a6a6a" transform="rotate(0 885 553)"/>
<ellipse cx="896" cy="567" rx="3.0" ry="4.0" fill="#686868" transform="rotate(0 896 567)"/>
<ellipse cx="762" cy="600" rx="1.5" ry="18.0" fill="#6d6d6d" transform="rotate(68 762 600)"/>
<ellipse cx="784" cy="520" rx="5.0" ry="7.0" fill="#8f8f8f" transform="rotate(0 784 520)"/>
<ellipse cx="698" cy="573" rx="4.0" ry="6.0" fill="#909090" transform="rotate(0 698 573)"/>
<ellipse cx="794" cy="550" rx="6.0" ry="4.0" fill="#909090" transform="rotate(20 794 550)"/>
<ellipse cx="1154.6" cy="518.4" rx="17.5" ry="15.5" fill="#616161" transform="rotate(0 1154.6 518.4)"/>
<ellipse cx="1154.6" cy="519" rx="8.5" ry="8.5" fill="#585858" transform="rotate(0 1154.6 519)"/>
<ellipse cx="1140" cy="534" rx="8.5" ry="7.5" fill="#6e6e6e" transform="rotate(30 1140 534)"/>
<ellipse cx="1172" cy="506" rx="12.5" ry="11.5" fill="#636363" transform="rotate(0 1172 506)"/>
<ellipse cx="1105" cy="527.5" rx="6.5" ry="7.5" fill="#6d6d6d" transform="rotate(30 1105 527.5)"/>
<ellipse cx="1173" cy="456" rx="3.0" ry="8.0" fill="#6d6d6d" transform="rotate(0 1173 456)"/>
<polygon points="1197,443 1203,445 1212,452 1218,460 1215.5,469 1206.5,482 1197.5,497 1189,509.5 1182.5,510.5 1181,503 1185,494 1190,486 1196,474 1199.5,461 1196,451" fill="#464646" stroke="#464646" stroke-width="8" stroke-linejoin="round"/>
<ellipse cx="1221" cy="465" rx="6.5" ry="19.5" fill="#636363" transform="rotate(0 1221 465)"/>
<ellipse cx="1183" cy="543" rx="6.5" ry="11.5" fill="#6b6b6b" transform="rotate(0 1183 543)"/>
<ellipse cx="1037" cy="527" rx="8.5" ry="29.5" fill="#696969" transform="rotate(55 1037 527)"/>
<ellipse cx="1077" cy="515" rx="14.0" ry="11.5" fill="#949494" transform="rotate(30 1077 515)"/>
<ellipse cx="971" cy="535" rx="9.5" ry="8.5" fill="#909090" transform="rotate(0 971 535)"/>
<ellipse cx="1048" cy="500" rx="2.6" ry="2.6" fill="#939393" transform="rotate(0 1048 500)"/>
<ellipse cx="1010" cy="513" rx="6.3" ry="5.3" fill="#8d8d8d" transform="rotate(0 1010 513)"/>
<ellipse cx="1052" cy="563" rx="4.0" ry="5.5" fill="#a7a7a7" transform="rotate(0 1052 563)"/>
<ellipse cx="1070" cy="567" rx="4.0" ry="7.0" fill="#6e6e6e" transform="rotate(0 1070 567)"/>
<ellipse cx="1024" cy="568" rx="7.5" ry="13.5" fill="#6d6d6d" transform="rotate(0 1024 568)"/>
<ellipse cx="1018" cy="598" rx="5.3" ry="9.3" fill="#717171" transform="rotate(0 1018 598)"/>
<ellipse cx="1002" cy="603" rx="7.5" ry="13.5" fill="#9e9e9e" transform="rotate(-15 1002 603)"/>
<ellipse cx="980" cy="608" rx="8.5" ry="14.5" fill="#6b6b6b" transform="rotate(0 980 608)"/>
<ellipse cx="1048" cy="592" rx="9.5" ry="19.5" fill="#929292" transform="rotate(0 1048 592)"/>
<ellipse cx="1039" cy="620" rx="10.5" ry="17.5" fill="#929292" transform="rotate(5 1039 620)"/>
<ellipse cx="1035" cy="642" rx="8.5" ry="15.5" fill="#909090" transform="rotate(5 1035 642)"/>
<ellipse cx="1031" cy="662" rx="8.5" ry="14.5" fill="#909090" transform="rotate(5 1031 662)"/>
<ellipse cx="1013" cy="662" rx="6.5" ry="23.5" fill="#6d6d6d" transform="rotate(0 1013 662)"/>
<ellipse cx="1069" cy="616" rx="3.0" ry="8.0" fill="#6d6d6d" transform="rotate(30 1069 616)"/>
<ellipse cx="1117" cy="582.5" rx="9.5" ry="11.5" fill="#6d6d6d" transform="rotate(0 1117 582.5)"/>
<ellipse cx="1139" cy="583.8" rx="4.0" ry="10.0" fill="#919191" transform="rotate(0 1139 583.8)"/>
<ellipse cx="1127.3" cy="559" rx="3.3" ry="3.8" fill="#939393" transform="rotate(0 1127.3 559)"/>
<ellipse cx="1163" cy="580" rx="14.5" ry="11.5" fill="#737373" transform="rotate(0 1163 580)"/>
<ellipse cx="1169" cy="574.7" rx="8.5" ry="7.5" fill="#6d6d6d" transform="rotate(0 1169 574.7)"/>
<ellipse cx="1157" cy="587.7" rx="6.5" ry="8.5" fill="#6d6d6d" transform="rotate(0 1157 587.7)"/>
<ellipse cx="1143" cy="561.7" rx="5.3" ry="5.3" fill="#6f6f6f" transform="rotate(0 1143 561.7)"/>
<ellipse cx="1184.5" cy="596.8" rx="5.3" ry="6.3" fill="#6e6e6e" transform="rotate(0 1184.5 596.8)"/>
<ellipse cx="1118" cy="632" rx="7.5" ry="17.5" fill="#6d6d6d" transform="rotate(-25 1118 632)"/>
<ellipse cx="1130" cy="650" rx="6.5" ry="9.5" fill="#6e6e6e" transform="rotate(0 1130 650)"/>
<ellipse cx="1146" cy="645.5" rx="4.6" ry="6.1" fill="#919191" transform="rotate(0 1146 645.5)"/>
<ellipse cx="1158.5" cy="664.4" rx="2.6" ry="5.6" fill="#8f8f8f" transform="rotate(0 1158.5 664.4)"/>
<ellipse cx="1188.4" cy="667" rx="2.0" ry="8.5" fill="#8d8d8d" transform="rotate(0 1188.4 667)"/>
<ellipse cx="1145.5" cy="671" rx="6.5" ry="9.5" fill="#6b6b6b" transform="rotate(0 1145.5 671)"/>
<ellipse cx="1186" cy="630" rx="12.5" ry="21.5" fill="#696969" transform="rotate(-15 1186 630)"/>
<ellipse cx="1176" cy="655" rx="9.5" ry="15.5" fill="#6d6d6d" transform="rotate(10 1176 655)"/>
<ellipse cx="1172.8" cy="606" rx="9.5" ry="11.5" fill="#656565" transform="rotate(0 1172.8 606)"/>
<ellipse cx="1176" cy="640" rx="8.5" ry="16.5" fill="#6b6b6b" transform="rotate(15 1176 640)"/>
<ellipse cx="1170" cy="662" rx="6.5" ry="9.5" fill="#6f6f6f" transform="rotate(0 1170 662)"/>
<ellipse cx="1194" cy="622" rx="8.5" ry="13.5" fill="#616161" transform="rotate(-20 1194 622)"/>
<ellipse cx="1203" cy="646" rx="11.5" ry="21.5" fill="#5d5d5d" transform="rotate(-20 1203 646)"/>
<ellipse cx="1212" cy="668" rx="12.5" ry="13.5" fill="#5f5f5f" transform="rotate(0 1212 668)"/>
<ellipse cx="1208" cy="661" rx="13.5" ry="21.5" fill="#636363" transform="rotate(-15 1208 661)"/>
<ellipse cx="1205" cy="649" rx="5.9" ry="10.4" fill="#4e4e4e" transform="rotate(-25 1205 649)"/>
<ellipse cx="1196" cy="552" rx="7.5" ry="11.5" fill="#959595" transform="rotate(15 1196 552)"/>
<ellipse cx="1192.5" cy="569.5" rx="7.0" ry="11.5" fill="#a4a4a4" transform="rotate(0 1192.5 569.5)"/>
<ellipse cx="1201.5" cy="584" rx="6.5" ry="10.5" fill="#939393" transform="rotate(-30 1201.5 584)"/>
<ellipse cx="1208" cy="596" rx="6.5" ry="9.5" fill="#959595" transform="rotate(-20 1208 596)"/>
<ellipse cx="1208" cy="611" rx="6.5" ry="9.5" fill="#a6a6a6" transform="rotate(15 1208 611)"/>
<ellipse cx="1217" cy="602" rx="6.5" ry="6.5" fill="#939393" transform="rotate(0 1217 602)"/>
<ellipse cx="1132.5" cy="617.6" rx="5.0" ry="12.0" fill="#898989" transform="rotate(0 1132.5 617.6)"/>
<ellipse cx="195" cy="348" rx="3.8" ry="13.3" fill="#a1a1a1" transform="rotate(35 195 348)"/>
<ellipse cx="216" cy="392" rx="4.2" ry="9.2" fill="#606060" transform="rotate(-25 216 392)"/>
<ellipse cx="311" cy="382" rx="8.0" ry="9.0" fill="#a4a4a4" transform="rotate(0 311 382)"/>
<ellipse cx="363" cy="374" rx="5.1" ry="21.1" fill="#5d5d5d" transform="rotate(35 363 374)"/>
<ellipse cx="337" cy="396" rx="6.0" ry="9.0" fill="#5d5d5d" transform="rotate(0 337 396)"/>
<ellipse cx="402" cy="305" rx="5.1" ry="6.1" fill="#a4a4a4" transform="rotate(0 402 305)"/>
<ellipse cx="414" cy="323" rx="7.1" ry="5.1" fill="#a4a4a4" transform="rotate(35 414 323)"/>
<ellipse cx="423" cy="298" rx="7.0" ry="9.0" fill="#606060" transform="rotate(0 423 298)"/>
<ellipse cx="417" cy="308" rx="4.2" ry="4.2" fill="#626262" transform="rotate(0 417 308)"/>
<ellipse cx="403" cy="368" rx="5.1" ry="16.1" fill="#a1a1a1" transform="rotate(0 403 368)"/>
<ellipse cx="277" cy="400" rx="3.4" ry="7.4" fill="#9a9a9a" transform="rotate(25 277 400)"/>
<ellipse cx="181" cy="429" rx="3.4" ry="7.4" fill="#9d9d9d" transform="rotate(0 181 429)"/>
<ellipse cx="203" cy="444" rx="2.5" ry="7.5" fill="#9e9e9e" transform="rotate(0 203 444)"/>
<ellipse cx="239" cy="435" rx="3.4" ry="8.4" fill="#606060" transform="rotate(0 239 435)"/>
<ellipse cx="318" cy="458" rx="7.0" ry="6.0" fill="#606060" transform="rotate(0 318 458)"/>
<ellipse cx="393.6" cy="448" rx="3.0" ry="9.5" fill="#a1a1a1" transform="rotate(0 393.6 448)"/>
<ellipse cx="420" cy="434" rx="4.2" ry="4.2" fill="#9a9a9a" transform="rotate(0 420 434)"/>
<ellipse cx="336" cy="458" rx="2.5" ry="5.5" fill="#979797" transform="rotate(0 336 458)"/>
<ellipse cx="256" cy="464" rx="2.1" ry="6.6" fill="#9b9b9b" transform="rotate(0 256 464)"/>
<ellipse cx="252" cy="429" rx="1.7" ry="7.7" fill="#979797" transform="rotate(0 252 429)"/>
<ellipse cx="449" cy="302" rx="7.0" ry="13.0" fill="#595959" transform="rotate(-15 449 302)"/>
<ellipse cx="464" cy="332" rx="4.2" ry="11.2" fill="#606060" transform="rotate(0 464 332)"/>
<ellipse cx="461" cy="303" rx="3.4" ry="5.4" fill="#9f9f9f" transform="rotate(0 461 303)"/>
<ellipse cx="474" cy="306" rx="4.2" ry="7.2" fill="#5d5d5d" transform="rotate(25 474 306)"/>
<ellipse cx="500" cy="292" rx="3.4" ry="5.4" fill="#626262" transform="rotate(0 500 292)"/>
<ellipse cx="520" cy="299" rx="8.0" ry="12.0" fill="#b0b0b0" transform="rotate(0 520 299)"/>
<ellipse cx="552" cy="288" rx="8.2" ry="4.2" fill="#a7a7a7" transform="rotate(0 552 288)"/>
<ellipse cx="548" cy="314" rx="6.0" ry="6.0" fill="#9b9b9b" transform="rotate(0 548 314)"/>
<ellipse cx="532" cy="329" rx="7.0" ry="8.0" fill="#a4a4a4" transform="rotate(0 532 329)"/>
<ellipse cx="574" cy="291" rx="5.2" ry="4.2" fill="#626262" transform="rotate(0 574 291)"/>
<ellipse cx="595" cy="293" rx="4.2" ry="7.2" fill="#a1a1a1" transform="rotate(-30 595 293)"/>
<ellipse cx="611" cy="301" rx="4.2" ry="5.2" fill="#5c5c5c" transform="rotate(0 611 301)"/>
<ellipse cx="448" cy="339" rx="4.2" ry="9.2" fill="#a1a1a1" transform="rotate(15 448 339)"/>
<ellipse cx="482" cy="338" rx="2.5" ry="4.5" fill="#a0a0a0" transform="rotate(0 482 338)"/>
<ellipse cx="495" cy="338" rx="3.4" ry="5.4" fill="#5f5f5f" transform="rotate(0 495 338)"/>
<ellipse cx="511" cy="327" rx="3.4" ry="4.4" fill="#5e5e5e" transform="rotate(0 511 327)"/>
<polyline points="657,295 650,304 640,316 630,326 623,335" fill="none" stroke="#646464" stroke-width="3.5" stroke-linecap="round" stroke-linejoin="round"/>
<ellipse cx="650" cy="304" rx="3.4" ry="4.4" fill="#5e5e5e" transform="rotate(0 650 304)"/>
<ellipse cx="623" cy="334" rx="3.0" ry="8.5" fill="#636363" transform="rotate(0 623 334)"/>
<ellipse cx="643" cy="347" rx="4.2" ry="7.2" fill="#606060" transform="rotate(0 643 347)"/>
<ellipse cx="676" cy="310" rx="4.2" ry="14.2" fill="#a1a1a1" transform="rotate(10 676 310)"/>
<ellipse cx="664" cy="333" rx="6.0" ry="7.0" fill="#989898" transform="rotate(0 664 333)"/>
<ellipse cx="606" cy="347" rx="3.8" ry="8.3" fill="#9d9d9d" transform="rotate(0 606 347)"/>
<ellipse cx="617" cy="315" rx="2.5" ry="4.5" fill="#9c9c9c" transform="rotate(30 617 315)"/>
<ellipse cx="580" cy="368" rx="4.4" ry="3.4" fill="#9b9b9b" transform="rotate(0 580 368)"/>
<ellipse cx="562" cy="357" rx="3.4" ry="3.4" fill="#989898" transform="rotate(0 562 357)"/>
<ellipse cx="453" cy="414" rx="5.1" ry="8.1" fill="#606060" transform="rotate(0 453 414)"/>
<ellipse cx="494" cy="416" rx="2.5" ry="4.5" fill="#9c9c9c" transform="rotate(0 494 416)"/>
<ellipse cx="578" cy="424" rx="4.2" ry="5.2" fill="#9c9c9c" transform="rotate(0 578 424)"/>
<ellipse cx="672" cy="434" rx="3.4" ry="7.4" fill="#9d9d9d" transform="rotate(0 672 434)"/>
<ellipse cx="635" cy="472" rx="2.5" ry="7.5" fill="#5f5f5f" transform="rotate(0 635 472)"/>
<ellipse cx="675" cy="474" rx="3.4" ry="5.4" fill="#9f9f9f" transform="rotate(0 675 474)"/>
<ellipse cx="728" cy="302" rx="5.1" ry="15.1" fill="#b3b3b3" transform="rotate(-10 728 302)"/>
<ellipse cx="737" cy="322" rx="5.1" ry="5.1" fill="#989898" transform="rotate(0 737 322)"/>
<ellipse cx="759" cy="288" rx="3.5" ry="2.5" fill="#a2a2a2" transform="rotate(0 759 288)"/>
<ellipse cx="778" cy="294" rx="4.2" ry="7.2" fill="#5d5d5d" transform="rotate(0 778 294)"/>
<ellipse cx="828" cy="302" rx="7.0" ry="19.0" fill="#aaaaaa" transform="rotate(-45 828 302)"/>
<ellipse cx="810" cy="317" rx="2.5" ry="4.5" fill="#a0a0a0" transform="rotate(0 810 317)"/>
<ellipse cx="828" cy="327" rx="4.4" ry="3.4" fill="#9b9b9b" transform="rotate(-30 828 327)"/>
<ellipse cx="877" cy="293" rx="6.0" ry="7.0" fill="#9e9e9e" transform="rotate(0 877 293)"/>
<ellipse cx="890" cy="317" rx="2.5" ry="5.5" fill="#9b9b9b" transform="rotate(0 890 317)"/>
<ellipse cx="757" cy="341" rx="4.2" ry="6.2" fill="#9a9a9a" transform="rotate(20 757 341)"/>
<ellipse cx="701" cy="345" rx="3.4" ry="5.4" fill="#9a9a9a" transform="rotate(0 701 345)"/>
<ellipse cx="794" cy="314" rx="2.5" ry="7.5" fill="#636363" transform="rotate(-15 794 314)"/>
<ellipse cx="927" cy="349" rx="7.0" ry="11.0" fill="#5d5d5d" transform="rotate(15 927 349)"/>
<ellipse cx="915" cy="374" rx="4.2" ry="13.2" fill="#606060" transform="rotate(10 915 374)"/>
<ellipse cx="956" cy="320" rx="4.2" ry="4.2" fill="#5c5c5c" transform="rotate(0 956 320)"/>
<ellipse cx="958" cy="392" rx="4.2" ry="7.2" fill="#5d5d5d" transform="rotate(0 958 392)"/>
<ellipse cx="946" cy="364" rx="2.5" ry="17.6" fill="#636363" transform="rotate(0 946 364)"/>
<ellipse cx="910" cy="410" rx="3.4" ry="7.4" fill="#9a9a9a" transform="rotate(0 910 410)"/>
<ellipse cx="909" cy="436" rx="3.0" ry="6.5" fill="#9a9a9a" transform="rotate(0 909 436)"/>
<ellipse cx="842" cy="449" rx="3.0" ry="6.5" fill="#979797" transform="rotate(0 842 449)"/>
<ellipse cx="811" cy="446" rx="3.0" ry="7.5" fill="#696969" transform="rotate(0 811 446)"/>
<ellipse cx="743" cy="434" rx="2.1" ry="7.6" fill="#5f5f5f" transform="rotate(0 743 434)"/>
<ellipse cx="727" cy="444" rx="1.7" ry="4.7" fill="#5b5b5b" transform="rotate(0 727 444)"/>
<ellipse cx="707" cy="468" rx="4.2" ry="9.2" fill="#636363" transform="rotate(25 707 468)"/>
<ellipse cx="762" cy="451" rx="2.5" ry="5.5" fill="#979797" transform="rotate(0 762 451)"/>
<ellipse cx="795" cy="449" rx="1.7" ry="4.7" fill="#636363" transform="rotate(0 795 449)"/>
<ellipse cx="928" cy="470" rx="3.4" ry="6.4" fill="#636363" transform="rotate(0 928 470)"/>
<ellipse cx="959" cy="340" rx="2.5" ry="5.5" fill="#a3a3a3" transform="rotate(0 959 340)"/>
<ellipse cx="960" cy="321.5" rx="8.4" ry="3.4" fill="#5a5a5a" transform="rotate(10 960 321.5)"/>
<ellipse cx="927.7" cy="348.5" rx="5.1" ry="8.1" fill="#5d5d5d" transform="rotate(0 927.7 348.5)"/>
<ellipse cx="913.5" cy="374" rx="4.2" ry="17.2" fill="#646464" transform="rotate(25 913.5 374)"/>
<ellipse cx="946.5" cy="374" rx="4.2" ry="13.2" fill="#606060" transform="rotate(0 946.5 374)"/>
<ellipse cx="958.5" cy="392" rx="6.0" ry="6.0" fill="#606060" transform="rotate(0 958.5 392)"/>
<ellipse cx="966" cy="383" rx="4.2" ry="12.2" fill="#5d5d5d" transform="rotate(45 966 383)"/>
<ellipse cx="982" cy="398" rx="3.8" ry="21.3" fill="#5a5a5a" transform="rotate(0 982 398)"/>
<ellipse cx="980" cy="417" rx="5.1" ry="7.1" fill="#575757" transform="rotate(0 980 417)"/>
<ellipse cx="986" cy="346" rx="10.0" ry="28.0" fill="#575757" transform="rotate(5 986 346)"/>
<polygon points="980,318 994,318 995,353 991.5,364 987,372 982,373.5 978.5,370 980,362 982,350 980.5,334" fill="#101010"/>
<ellipse cx="966" cy="351" rx="7.0" ry="14.5" fill="#a2a2a2" transform="rotate(-20 966 351)"/>
<ellipse cx="1012" cy="345" rx="12.5" ry="26.0" fill="#bebebe" transform="rotate(-5 1012 345)"/>
<ellipse cx="1000" cy="375" rx="9.0" ry="10.0" fill="#b9b9b9" transform="rotate(40 1000 375)"/>
<ellipse cx="995" cy="393" rx="5.1" ry="12.1" fill="#a7a7a7" transform="rotate(10 995 393)"/>
<ellipse cx="993" cy="410" rx="3.0" ry="9.5" fill="#a1a1a1" transform="rotate(-10 993 410)"/>
<ellipse cx="1010" cy="336" rx="11.0" ry="19.0" fill="#ececec" transform="rotate(-5 1010 336)"/>
<polyline points="1067.5,352.5 1073,362 1076.5,372 1079,382 1080,393 1079.5,403 1078,411 1072,420 1064.5,427.5 1058,434 1051,441" fill="none" stroke="#4b4b4b" stroke-width="6.0" stroke-linecap="round" stroke-linejoin="round"/>
<polyline points="1084,380 1085,392 1082.5,404" fill="none" stroke="#505050" stroke-width="3.5" stroke-linecap="round" stroke-linejoin="round"/>
<ellipse cx="1077" cy="410" rx="4.2" ry="7.2" fill="#404040" transform="rotate(15 1077 410)"/>
<polyline points="1093,376.5 1097,383 1100.5,390 1103,399 1105,408 1106.5,415" fill="none" stroke="#4c4c4c" stroke-width="4.5" stroke-linecap="round" stroke-linejoin="round"/>
<ellipse cx="1125" cy="388.5" rx="4.4" ry="3.4" fill="#555555" transform="rotate(0 1125 388.5)"/>
<ellipse cx="1112" cy="381" rx="4.2" ry="5.2" fill="#9e9e9e" transform="rotate(0 1112 381)"/>
<ellipse cx="1054" cy="354" rx="2.1" ry="3.6" fill="#9e9e9e" transform="rotate(0 1054 354)"/>
<ellipse cx="1126" cy="412" rx="9.0" ry="15.5" fill="#c2c2c2" transform="rotate(-24 1126 412)"/>
<ellipse cx="1126" cy="412" rx="6.5" ry="12.5" fill="#f2f2f2" transform="rotate(-24 1126 412)"/>
<ellipse cx="1086" cy="435" rx="20.0" ry="7.0" fill="#a4a4a4" transform="rotate(-17 1086 435)"/>
<ellipse cx="1024" cy="458" rx="2.5" ry="4.5" fill="#9c9c9c" transform="rotate(0 1024 458)"/>
<ellipse cx="1029" cy="474" rx="2.5" ry="3.5" fill="#999999" transform="rotate(0 1029 474)"/>
<ellipse cx="1117" cy="457.5" rx="2.5" ry="4.5" fill="#a0a0a0" transform="rotate(20 1117 457.5)"/>
<ellipse cx="1020" cy="422" rx="4.2" ry="5.2" fill="#626262" transform="rotate(0 1020 422)"/>
<ellipse cx="1198" cy="307" rx="2.5" ry="4.5" fill="#989898" transform="rotate(0 1198 307)"/>
<ellipse cx="1142" cy="301" rx="1.7" ry="4.7" fill="#999999" transform="rotate(0 1142 301)"/>
<ellipse cx="1110" cy="300" rx="1.7" ry="5.7" fill="#a4a4a4" transform="rotate(0 1110 300)"/>
<ellipse cx="188" cy="498" rx="6.0" ry="9.0" fill="#9b9b9b" transform="rotate(0 188 498)"/>
<ellipse cx="194" cy="516" rx="3.4" ry="5.4" fill="#969696" transform="rotate(0 194 516)"/>
<ellipse cx="215" cy="502" rx="9.0" ry="9.0" fill="#636363" transform="rotate(0 215 502)"/>
<ellipse cx="243" cy="490" rx="3.4" ry="8.4" fill="#a1a1a1" transform="rotate(0 243 490)"/>
<ellipse cx="238" cy="510" rx="3.4" ry="11.4" fill="#a5a5a5" transform="rotate(0 238 510)"/>
<ellipse cx="215" cy="532" rx="5.1" ry="8.1" fill="#9e9e9e" transform="rotate(0 215 532)"/>
<ellipse cx="191" cy="542" rx="3.4" ry="8.4" fill="#5a5a5a" transform="rotate(0 191 542)"/>
<ellipse cx="227" cy="557" rx="5.1" ry="8.1" fill="#525252" transform="rotate(20 227 557)"/>
<ellipse cx="205" cy="554" rx="2.5" ry="4.5" fill="#a0a0a0" transform="rotate(0 205 554)"/>
<ellipse cx="179.6" cy="572" rx="2.1" ry="9.6" fill="#9e9e9e" transform="rotate(0 179.6 572)"/>
<ellipse cx="253" cy="529" rx="3.4" ry="6.4" fill="#626262" transform="rotate(0 253 529)"/>
<ellipse cx="265.6" cy="534" rx="2.1" ry="5.6" fill="#979797" transform="rotate(0 265.6 534)"/>
<ellipse cx="315" cy="526" rx="4.2" ry="11.2" fill="#606060" transform="rotate(20 315 526)"/>
<ellipse cx="423" cy="515" rx="6.0" ry="12.0" fill="#606060" transform="rotate(0 423 515)"/>
<ellipse cx="425" cy="536" rx="1.7" ry="7.7" fill="#666666" transform="rotate(0 425 536)"/>
<ellipse cx="438" cy="581" rx="3.8" ry="7.3" fill="#a9a9a9" transform="rotate(0 438 581)"/>
<ellipse cx="355" cy="582" rx="2.1" ry="4.6" fill="#606060" transform="rotate(0 355 582)"/>
<ellipse cx="394" cy="580" rx="2.5" ry="5.5" fill="#626262" transform="rotate(0 394 580)"/>
<ellipse cx="278" cy="598" rx="2.5" ry="6.5" fill="#9e9e9e" transform="rotate(15 278 598)"/>
<ellipse cx="292" cy="606" rx="2.5" ry="8.6" fill="#616161" transform="rotate(0 292 606)"/>
<ellipse cx="312" cy="624" rx="2.5" ry="4.5" fill="#5d5d5d" transform="rotate(0 312 624)"/>
<ellipse cx="266" cy="589" rx="2.5" ry="7.5" fill="#666666" transform="rotate(40 266 589)"/>
<ellipse cx="289" cy="568" rx="2.1" ry="3.6" fill="#636363" transform="rotate(0 289 568)"/>
<ellipse cx="227" cy="628" rx="2.1" ry="8.6" fill="#a2a2a2" transform="rotate(10 227 628)"/>
<ellipse cx="222" cy="656" rx="2.1" ry="17.6" fill="#9c9c9c" transform="rotate(-5 222 656)"/>
<ellipse cx="244" cy="670" rx="2.5" ry="5.5" fill="#a3a3a3" transform="rotate(0 244 670)"/>
<ellipse cx="262" cy="652" rx="3.4" ry="4.4" fill="#616161" transform="rotate(0 262 652)"/>
<ellipse cx="336" cy="673" rx="4.5" ry="2.5" fill="#5d5d5d" transform="rotate(0 336 673)"/>
<ellipse cx="220" cy="576" rx="1.7" ry="4.7" fill="#999999" transform="rotate(0 220 576)"/>
<ellipse cx="212" cy="568" rx="1.3" ry="3.8" fill="#5c5c5c" transform="rotate(0 212 568)"/>
<ellipse cx="276" cy="488" rx="1.3" ry="4.8" fill="#626262" transform="rotate(0 276 488)"/>
<ellipse cx="605" cy="510" rx="3.4" ry="7.4" fill="#9f9f9f" transform="rotate(0 605 510)"/>
<ellipse cx="586" cy="540" rx="4.2" ry="8.2" fill="#9f9f9f" transform="rotate(25 586 540)"/>
<ellipse cx="662" cy="492" rx="5.1" ry="11.1" fill="#9c9c9c" transform="rotate(25 662 492)"/>
<ellipse cx="676" cy="483" rx="4.4" ry="3.4" fill="#a3a3a3" transform="rotate(0 676 483)"/>
<ellipse cx="556" cy="550" rx="1.7" ry="5.7" fill="#989898" transform="rotate(20 556 550)"/>
<ellipse cx="849" cy="513" rx="5.1" ry="6.1" fill="#666666" transform="rotate(30 849 513)"/>
<ellipse cx="861" cy="547" rx="2.5" ry="4.5" fill="#5d5d5d" transform="rotate(0 861 547)"/>
<ellipse cx="856" cy="532" rx="2.5" ry="3.5" fill="#646464" transform="rotate(0 856 532)"/>
<ellipse cx="868" cy="503" rx="2.1" ry="7.6" fill="#9e9e9e" transform="rotate(0 868 503)"/>
<ellipse cx="920" cy="497" rx="6.0" ry="7.5" fill="#5c5c5c" transform="rotate(-25 920 497)"/>
<ellipse cx="945" cy="496" rx="7.0" ry="10.0" fill="#adadad" transform="rotate(0 945 496)"/>
<ellipse cx="953" cy="522" rx="7.0" ry="13.0" fill="#9e9e9e" transform="rotate(-20 953 522)"/>
<ellipse cx="910" cy="520" rx="2.1" ry="6.6" fill="#5e5e5e" transform="rotate(0 910 520)"/>
<ellipse cx="912" cy="537" rx="5.2" ry="4.2" fill="#626262" transform="rotate(30 912 537)"/>
<ellipse cx="927" cy="531" rx="2.5" ry="6.5" fill="#9e9e9e" transform="rotate(0 927 531)"/>
<ellipse cx="874" cy="532" rx="2.5" ry="4.5" fill="#989898" transform="rotate(40 874 532)"/>
<ellipse cx="914" cy="581" rx="4.2" ry="13.2" fill="#636363" transform="rotate(30 914 581)"/>
<ellipse cx="871" cy="589" rx="2.5" ry="2.5" fill="#a8a8a8" transform="rotate(0 871 589)"/>
<ellipse cx="933" cy="579" rx="2.5" ry="2.5" fill="#a4a4a4" transform="rotate(0 933 579)"/>
<ellipse cx="951" cy="612" rx="4.2" ry="9.2" fill="#9e9e9e" transform="rotate(-15 951 612)"/>
<ellipse cx="935" cy="611" rx="2.5" ry="3.5" fill="#606060" transform="rotate(0 935 611)"/>
<ellipse cx="1154.6" cy="518.4" rx="15.0" ry="13.0" fill="#4d4d4d" transform="rotate(0 1154.6 518.4)"/>
<ellipse cx="1154.6" cy="519" rx="6.0" ry="6.0" fill="#3d3d3d" transform="rotate(0 1154.6 519)"/>
<ellipse cx="1140" cy="534" rx="6.1" ry="5.1" fill="#636363" transform="rotate(30 1140 534)"/>
<ellipse cx="1172" cy="506" rx="10.0" ry="9.0" fill="#505050" transform="rotate(0 1172 506)"/>
<ellipse cx="1105" cy="527.5" rx="4.2" ry="5.2" fill="#5f5f5f" transform="rotate(30 1105 527.5)"/>
<polygon points="1197,443 1203,445 1212,452 1218,460 1215.5,469 1206.5,482 1197.5,497 1189,509.5 1182.5,510.5 1181,503 1185,494 1190,486 1196,474 1199.5,461 1196,451" fill="#101010"/>
<ellipse cx="1221" cy="465" rx="4.2" ry="17.2" fill="#505050" transform="rotate(0 1221 465)"/>
<ellipse cx="1183" cy="543" rx="4.2" ry="9.2" fill="#5d5d5d" transform="rotate(0 1183 543)"/>
<ellipse cx="1037" cy="527" rx="6.0" ry="27.0" fill="#5a5a5a" transform="rotate(55 1037 527)"/>
<ellipse cx="1077" cy="515" rx="11.5" ry="9.0" fill="#a2a2a2" transform="rotate(30 1077 515)"/>
<ellipse cx="971" cy="535" rx="7.0" ry="6.0" fill="#9b9b9b" transform="rotate(0 971 535)"/>
<ellipse cx="1048" cy="500" rx="1.7" ry="1.7" fill="#b2b2b2" transform="rotate(0 1048 500)"/>
<ellipse cx="1010" cy="513" rx="4.4" ry="3.4" fill="#979797" transform="rotate(0 1010 513)"/>
<ellipse cx="1052" cy="563" rx="2.5" ry="4.0" fill="#c9c9c9" transform="rotate(0 1052 563)"/>
<ellipse cx="1070" cy="567" rx="2.5" ry="5.5" fill="#616161" transform="rotate(0 1070 567)"/>
<ellipse cx="1024" cy="568" rx="5.1" ry="11.1" fill="#616161" transform="rotate(0 1024 568)"/>
<ellipse cx="1018" cy="598" rx="3.4" ry="7.4" fill="#676767" transform="rotate(0 1018 598)"/>
<ellipse cx="1002" cy="603" rx="5.1" ry="11.1" fill="#b3b3b3" transform="rotate(-15 1002 603)"/>
<ellipse cx="980" cy="608" rx="6.0" ry="12.0" fill="#5d5d5d" transform="rotate(0 980 608)"/>
<ellipse cx="1048" cy="592" rx="7.0" ry="17.0" fill="#9e9e9e" transform="rotate(0 1048 592)"/>
<ellipse cx="1039" cy="620" rx="8.0" ry="15.0" fill="#9e9e9e" transform="rotate(5 1039 620)"/>
<ellipse cx="1035" cy="642" rx="6.0" ry="13.0" fill="#9b9b9b" transform="rotate(5 1035 642)"/>
<ellipse cx="1031" cy="662" rx="6.0" ry="12.0" fill="#9b9b9b" transform="rotate(5 1031 662)"/>
<ellipse cx="1013" cy="662" rx="4.2" ry="21.2" fill="#606060" transform="rotate(0 1013 662)"/>
<ellipse cx="1117" cy="582.5" rx="7.0" ry="9.0" fill="#606060" transform="rotate(0 1117 582.5)"/>
<ellipse cx="1139" cy="583.8" rx="2.5" ry="8.6" fill="#9e9e9e" transform="rotate(0 1139 583.8)"/>
<ellipse cx="1127.3" cy="559" rx="2.1" ry="2.6" fill="#aaaaaa" transform="rotate(0 1127.3 559)"/>
<ellipse cx="1163" cy="580" rx="12.0" ry="9.0" fill="#6a6a6a" transform="rotate(0 1163 580)"/>
<ellipse cx="1169" cy="574.7" rx="6.1" ry="5.1" fill="#606060" transform="rotate(0 1169 574.7)"/>
<ellipse cx="1157" cy="587.7" rx="4.2" ry="6.2" fill="#616161" transform="rotate(0 1157 587.7)"/>
<ellipse cx="1143" cy="561.7" rx="3.4" ry="3.4" fill="#616161" transform="rotate(0 1143 561.7)"/>
<ellipse cx="1184.5" cy="596.8" rx="3.4" ry="4.4" fill="#616161" transform="rotate(0 1184.5 596.8)"/>
<ellipse cx="1118" cy="632" rx="5.1" ry="15.1" fill="#606060" transform="rotate(-25 1118 632)"/>
<ellipse cx="1130" cy="650" rx="4.2" ry="7.2" fill="#636363" transform="rotate(0 1130 650)"/>
<ellipse cx="1146" cy="645.5" rx="3.0" ry="4.5" fill="#9f9f9f" transform="rotate(0 1146 645.5)"/>
<ellipse cx="1158.5" cy="664.4" rx="1.7" ry="4.7" fill="#9d9d9d" transform="rotate(0 1158.5 664.4)"/>
<ellipse cx="1188.4" cy="667" rx="1.3" ry="7.8" fill="#979797" transform="rotate(0 1188.4 667)"/>
<ellipse cx="1145.5" cy="671" rx="4.2" ry="7.2" fill="#5d5d5d" transform="rotate(0 1145.5 671)"/>
<ellipse cx="1186" cy="630" rx="10.0" ry="19.0" fill="#5a5a5a" transform="rotate(-15 1186 630)"/>
<ellipse cx="1176" cy="655" rx="7.0" ry="13.0" fill="#606060" transform="rotate(10 1176 655)"/>
<ellipse cx="1172.8" cy="606" rx="7.0" ry="9.0" fill="#535353" transform="rotate(0 1172.8 606)"/>
<ellipse cx="1176" cy="640" rx="6.0" ry="14.0" fill="#5d5d5d" transform="rotate(15 1176 640)"/>
<ellipse cx="1170" cy="662" rx="4.2" ry="7.2" fill="#636363" transform="rotate(0 1170 662)"/>
<ellipse cx="1194" cy="622" rx="6.0" ry="11.0" fill="#4d4d4d" transform="rotate(-20 1194 622)"/>
<ellipse cx="1203" cy="646" rx="9.0" ry="19.0" fill="#474747" transform="rotate(-20 1203 646)"/>
<ellipse cx="1212" cy="668" rx="10.0" ry="11.0" fill="#4a4a4a" transform="rotate(0 1212 668)"/>
<ellipse cx="1208" cy="661" rx="11.0" ry="19.0" fill="#505050" transform="rotate(-15 1208 661)"/>
<ellipse cx="1205" cy="649" rx="3.8" ry="8.3" fill="#2c2c2c" transform="rotate(-25 1205 649)"/>
<ellipse cx="1196" cy="552" rx="5.1" ry="9.1" fill="#a4a4a4" transform="rotate(15 1196 552)"/>
<ellipse cx="1192.5" cy="569.5" rx="4.7" ry="9.2" fill="#bcbcbc" transform="rotate(0 1192.5 569.5)"/>
<ellipse cx="1201.5" cy="584" rx="4.2" ry="8.2" fill="#a1a1a1" transform="rotate(-30 1201.5 584)"/>
<ellipse cx="1208" cy="596" rx="4.2" ry="7.2" fill="#a4a4a4" transform="rotate(-20 1208 596)"/>
<ellipse cx="1208" cy="611" rx="4.2" ry="7.2" fill="#bfbfbf" transform="rotate(15 1208 611)"/>
<ellipse cx="1217" cy="602" rx="4.2" ry="4.2" fill="#a2a2a2" transform="rotate(0 1217 602)"/>
</g>
<g><path d="M896.7 285.2h214.0v4.2h-214.0zM900.4 289.2h210.2v4.2h-210.2zM904.2 293.1h206.4v4.2h-206.4zM911.7 297.0h198.9v4.2h-198.9zM923.0 300.9h183.9v4.2h-183.9zM930.5 304.8h176.4v4.2h-176.4zM941.7 308.7h165.2v4.2h-165.2zM949.2 312.6h153.9v4.2h-153.9zM1106.9 312.6h56.3v4.2h-56.3zM956.7 316.5h41.3v4.2h-41.3zM1009.3 316.5h161.4v4.2h-161.4zM968.0 320.4h18.8v4.2h-18.8zM1016.8 320.4h157.7v4.2h-157.7zM1020.6 324.3h161.4v4.2h-161.4zM1024.3 328.2h161.4v4.2h-161.4zM1028.1 332.0h157.7v4.2h-157.7zM1035.6 335.9h150.1v4.2h-150.1zM1039.3 339.8h146.4v4.2h-146.4zM1046.8 343.6h135.1v4.2h-135.1zM1054.3 347.5h127.6v4.2h-127.6zM1069.3 351.3h112.6v4.1h-112.6zM1076.9 355.2h105.1v4.1h-105.1zM1088.1 359.0h93.8v4.1h-93.8zM1106.9 362.9h75.1v4.1h-75.1zM1110.6 366.7h71.3v4.1h-71.3zM1114.4 370.5h63.8v4.1h-63.8zM1118.1 374.4h60.1v4.1h-60.1zM1121.9 378.2h56.3v4.1h-56.3zM1125.7 382.0h52.5v4.1h-52.5zM1129.4 385.8h45.0v4.1h-45.0zM1136.9 389.6h41.3v4.1h-41.3zM1136.9 393.4h45.0v4.1h-45.0zM1136.9 397.3h45.0v4.1h-45.0zM1136.9 401.1h48.8v4.1h-48.8zM1136.9 404.9h52.5v4.1h-52.5zM1140.7 408.7h52.5v4.1h-52.5zM1144.4 412.5h7.5v4.1h-7.5zM1155.7 412.5h41.3v4.1h-41.3zM1159.4 416.2h41.3v4.1h-41.3zM1215.7 416.2h11.3v4.1h-11.3zM1163.2 420.0h63.8v4.1h-63.8zM1166.9 423.8h60.1v4.1h-60.1zM1166.9 427.6h60.1v4.1h-60.1zM1170.7 431.4h56.3v4.1h-56.3zM1178.2 435.2h7.5v4.1h-7.5zM1189.5 435.2h37.5v4.1h-37.5zM1197.0 438.9h30.0v4.1h-30.0zM1200.7 442.7h26.3v4.1h-26.3zM1208.2 446.5h18.8v4.1h-18.8zM1212.0 450.3h7.5v4.1h-7.5zM1223.2 555.3h3.8v4.0h-3.8zM1215.7 559.0h11.3v4.0h-11.3zM1215.7 562.7h11.3v4.0h-11.3zM1212.0 566.5h15.0v4.0h-15.0zM1208.2 570.2h18.8v4.0h-18.8zM1208.2 574.0h18.8v4.0h-18.8zM1212.0 577.7h15.0v4.0h-15.0zM1212.0 581.4h15.0v4.0h-15.0zM1212.0 585.2h15.0v4.0h-15.0zM1208.2 588.9h18.8v4.0h-18.8zM1208.2 592.7h18.8v4.0h-18.8zM1212.0 596.4h15.0v4.0h-15.0zM1219.5 600.1h7.5v4.0h-7.5zM1223.2 603.9h3.8v4.0h-3.8zM1215.7 607.6h11.3v4.0h-11.3zM1212.0 611.4h15.0v4.0h-15.0zM1208.2 615.1h18.8v4.0h-18.8zM1204.5 618.9h22.5v4.0h-22.5zM1200.7 622.6h26.3v4.1h-26.3zM1200.7 626.4h26.3v4.1h-26.3zM1200.7 630.1h26.3v4.1h-26.3zM1204.5 633.9h22.5v4.1h-22.5zM1204.5 637.6h22.5v4.1h-22.5zM1204.5 641.4h22.5v4.1h-22.5zM1204.5 645.2h22.5v4.1h-22.5zM1204.5 648.9h22.5v4.1h-22.5zM1208.2 652.7h18.8v4.1h-18.8zM1212.0 656.4h15.0v4.1h-15.0zM1219.5 660.2h7.5v4.1h-7.5z" fill="#fff"/><rect x="1049" y="568.2" width="18" height="7.6" fill="#fff"/><polygon points="899,284 905,291 915,297 928,302 940,306 950,311 960,316 972,320 982,321 991,317 1000,314 1008,314 1014,317 1020,322 1028,329 1034.5,334 1043.5,340.5 1052.5,345 1061,347.5 1069,348.7 1078,354 1085,356.5 1093.5,359.2 1100,359.4 1107,359.2 1112.4,356.5 1116.9,362.5 1111.5,363.2 1118,370.5 1125,378.1 1132,384.5 1139.4,390.7 1140.5,396 1140.3,402.5 1143,408.8 1149.3,412.4 1153.8,408.8 1159.2,415 1164.5,419.5 1170,423.2 1171.8,429.5 1176,432.5 1180.8,434.9 1186.2,433 1192,435 1197,436.7 1204.2,442.1 1213.2,450.2 1220,448.3 1231,445.5 1231,420.5 1225,422 1216.9,424 1206,426.8 1195.3,423.2 1192.5,417.8 1182.6,408.8 1173.6,397 1169.7,389 1171.8,377.2 1174.5,364.6 1174.5,349.3 1178.1,342.1 1178.1,332.2 1170,326.8 1161,320 1152,317.5 1144.8,318.7 1137.6,317.5 1125,320.5 1116,318.7 1104.3,322.3 1092.6,316.9 1098.9,310.6 1102.5,301.6 1103.4,288 1103.4,284" fill="#808080" stroke="#000" stroke-width="1.1" stroke-linejoin="round"/><polygon points="1231,560 1224.8,561 1221,563 1217,568 1213,573.4 1214.5,578 1215.7,582.5 1214.5,588 1213.7,593 1217,596 1221,598 1224.8,603.3 1231,605" fill="#808080" stroke="#000" stroke-width="1.1" stroke-linejoin="round"/><polygon points="1231,607 1224.8,610.5 1219.5,614 1214.4,617.6 1206.6,625.4 1206.8,629 1208,633 1213,641 1209.9,648.8 1213,651.5 1217,654 1224.8,658 1231,660" fill="#808080" stroke="#000" stroke-width="1.1" stroke-linejoin="round"/><polygon points="1055.6,557.6 1058,560 1063,568 1064,570.4 1059,574.4 1054.4,573 1058,569.6 1054,566" fill="#808080" stroke="#000" stroke-width="1.1" stroke-linejoin="round"/><polygon points="1231,433 1225,434 1220.5,436.7 1221.4,441.2 1225,443.9 1231,445" fill="#fff" stroke="#000" stroke-width="1"/></g>
</g>

<line x1="401.36" y1="297" x2="401.36" y2="669" stroke="#000" stroke-width="1.1" stroke-dasharray="1.1 2.94"/>
<line x1="626.58" y1="297" x2="626.58" y2="669" stroke="#000" stroke-width="1.1" stroke-dasharray="1.1 2.94"/>
<line x1="851.79" y1="297" x2="851.79" y2="669" stroke="#000" stroke-width="1.1" stroke-dasharray="1.1 2.94"/>
<line x1="1077.01" y1="297" x2="1077.01" y2="669" stroke="#000" stroke-width="1.1" stroke-dasharray="1.1 2.94"/>
<line x1="187" y1="331.85" x2="1216" y2="331.85" stroke="#000" stroke-width="1.1" stroke-dasharray="1.1 2.94"/>
<line x1="187" y1="408.30" x2="1216" y2="408.30" stroke="#000" stroke-width="1.1" stroke-dasharray="1.1 2.94"/>
<line x1="187" y1="483.60" x2="1216" y2="483.60" stroke="#000" stroke-width="1.1" stroke-dasharray="1.1 2.94"/>
<line x1="187" y1="558.90" x2="1216" y2="558.90" stroke="#000" stroke-width="1.1" stroke-dasharray="1.1 2.94"/>
<line x1="187" y1="634.00" x2="1216" y2="634.00" stroke="#000" stroke-width="1.1" stroke-dasharray="1.1 2.94"/>
<line x1="401.2" y1="285.5" x2="401.2" y2="296" stroke="#000" stroke-width="4"/>
<line x1="401.2" y1="679" x2="401.2" y2="668.5" stroke="#000" stroke-width="4"/>
<line x1="626.4" y1="285.5" x2="626.4" y2="296" stroke="#000" stroke-width="4"/>
<line x1="626.4" y1="679" x2="626.4" y2="668.5" stroke="#000" stroke-width="4"/>
<line x1="851.6" y1="285.5" x2="851.6" y2="296" stroke="#000" stroke-width="4"/>
<line x1="851.6" y1="679" x2="851.6" y2="668.5" stroke="#000" stroke-width="4"/>
<line x1="1076.9" y1="285.5" x2="1076.9" y2="296" stroke="#000" stroke-width="4"/>
<line x1="1076.9" y1="679" x2="1076.9" y2="668.5" stroke="#000" stroke-width="4"/>
<line x1="176" y1="331.9" x2="186.5" y2="331.9" stroke="#000" stroke-width="4"/>
<line x1="1227" y1="331.9" x2="1216.5" y2="331.9" stroke="#000" stroke-width="4"/>
<line x1="176" y1="408.3" x2="186.5" y2="408.3" stroke="#000" stroke-width="4"/>
<line x1="1227" y1="408.3" x2="1216.5" y2="408.3" stroke="#000" stroke-width="4"/>
<line x1="176" y1="483.6" x2="186.5" y2="483.6" stroke="#000" stroke-width="4"/>
<line x1="1227" y1="483.6" x2="1216.5" y2="483.6" stroke="#000" stroke-width="4"/>
<line x1="176" y1="558.9" x2="186.5" y2="558.9" stroke="#000" stroke-width="4"/>
<line x1="1227" y1="558.9" x2="1216.5" y2="558.9" stroke="#000" stroke-width="4"/>
<line x1="176" y1="634.0" x2="186.5" y2="634.0" stroke="#000" stroke-width="4"/>
<line x1="1227" y1="634.0" x2="1216.5" y2="634.0" stroke="#000" stroke-width="4"/>
<rect x="176" y="285.5" width="1051" height="393.5" fill="none" stroke="#000" stroke-width="4" stroke-linejoin="round"/>
<text class="tk" x="177.2" y="701.0" text-anchor="middle">150<tspan class="sup" dy="-8.3" dx="0.4">o</tspan><tspan dy="8.3" dx="0.5">W</tspan></text>
<text class="tk" x="402.4" y="701.0" text-anchor="middle">135<tspan class="sup" dy="-8.3" dx="0.4">o</tspan><tspan dy="8.3" dx="0.5">W</tspan></text>
<text class="tk" x="627.6" y="701.0" text-anchor="middle">120<tspan class="sup" dy="-8.3" dx="0.4">o</tspan><tspan dy="8.3" dx="0.5">W</tspan></text>
<text class="tk" x="852.8" y="701.0" text-anchor="middle">105<tspan class="sup" dy="-8.3" dx="0.4">o</tspan><tspan dy="8.3" dx="0.5">W</tspan></text>
<text class="tk" x="1078.1" y="701.0" text-anchor="middle">90<tspan class="sup" dy="-8.3" dx="0.4">o</tspan><tspan dy="8.3" dx="0.5">W</tspan></text>
<text class="tk" x="172.0" y="341.1" text-anchor="end">15<tspan class="sup" dy="-8.3" dx="0.4">o</tspan><tspan dy="8.3" dx="0.5">N</tspan></text>
<text class="tk" x="172.0" y="417.5" text-anchor="end">10<tspan class="sup" dy="-8.3" dx="0.4">o</tspan><tspan dy="8.3" dx="0.5">N</tspan></text>
<text class="tk" x="172.0" y="492.8" text-anchor="end">5<tspan class="sup" dy="-8.3" dx="0.4">o</tspan><tspan dy="8.3" dx="0.5">N</tspan></text>
<text class="tk" x="166.8" y="568.1" text-anchor="end">0<tspan class="sup" dy="-8.3" dx="0.4">o</tspan><tspan dy="8.3" dx="0.5"></tspan></text>
<text class="tk" x="172.0" y="643.2" text-anchor="end">5<tspan class="sup" dy="-8.3" dx="0.4">o</tspan><tspan dy="8.3" dx="0.5">S</tspan></text>
<text class="ttl" x="706" y="235.2" text-anchor="middle">AVHRR Zonal Sea Surface Temperature Gradient</text>
<text class="sub" x="702" y="275.1" text-anchor="middle">2016-02-29</text>
<rect x="174.5" y="711.5" width="1050" height="19" fill="url(#cbg)" stroke="#262626" stroke-width="1"/>
<text class="cb" x="174.5" y="755" text-anchor="middle">-0.03</text>
<line x1="349.5" y1="720" x2="349.5" y2="730.5" stroke="#262626" stroke-width="1"/>
<text class="cb" x="349.5" y="755" text-anchor="middle">-0.02</text>
<line x1="524.5" y1="720" x2="524.5" y2="730.5" stroke="#262626" stroke-width="1"/>
<text class="cb" x="524.5" y="755" text-anchor="middle">-0.01</text>
<line x1="699.5" y1="720" x2="699.5" y2="730.5" stroke="#262626" stroke-width="1"/>
<text class="cb" x="699.5" y="755" text-anchor="middle">0</text>
<line x1="874.5" y1="720" x2="874.5" y2="730.5" stroke="#262626" stroke-width="1"/>
<text class="cb" x="874.5" y="755" text-anchor="middle">0.01</text>
<line x1="1049.5" y1="720" x2="1049.5" y2="730.5" stroke="#262626" stroke-width="1"/>
<text class="cb" x="1049.5" y="755" text-anchor="middle">0.02</text>
<text class="cb" x="1224.5" y="755" text-anchor="middle">0.03</text>
<text class="cb" x="699.9" y="779" text-anchor="middle"><tspan font-size="19px" dy="2.6" fill="#444">&#176;</tspan><tspan dy="-2.6" dx="-1">C/km</tspan></text>
</svg></body></html>
